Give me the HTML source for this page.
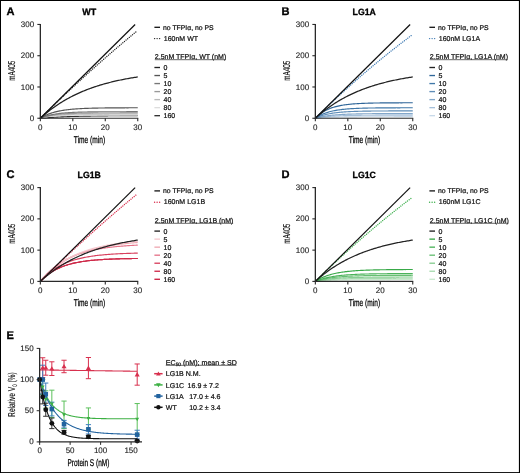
<!DOCTYPE html>
<html><head><meta charset="utf-8"><style>
html,body{margin:0;padding:0;background:#fff;}
svg{display:block;font-family:"Liberation Sans", sans-serif;will-change:transform;text-rendering:geometricPrecision;}
text{stroke:#111;stroke-width:0.22px;}
.at{stroke:#000;stroke-width:0.26px;}
.bd{stroke:#000;stroke-width:0.3px;}
.yl{stroke:#000;stroke-width:0.1px;}
.tk{stroke:#222;stroke-width:0.12px;}
</style></head><body>
<svg width="520" height="473" viewBox="0 0 520 473">
<rect x="0" y="0" width="520" height="473" fill="#000"/>
<rect x="1" y="1" width="517.9" height="471.1" fill="#fff"/>
<text x="6.4" y="14.7" font-size="11.1" text-anchor="start" font-weight="bold" fill="#000" class="bd">A</text>
<text x="89.2" y="15.3" font-size="9.1" text-anchor="middle" font-weight="bold" fill="#000" textLength="13.9" lengthAdjust="spacingAndGlyphs" class="bd">WT</text>
<path d="M40.35 118.25 L41.43 118.16 L42.51 118.07 L43.6 117.98 L44.68 117.9 L45.76 117.82 L46.84 117.74 L47.93 117.67 L49.01 117.6 L50.09 117.53 L51.17 117.46 L52.25 117.39 L53.34 117.33 L54.42 117.27 L55.5 117.21 L56.58 117.15 L57.67 117.09 L58.75 117.04 L59.83 116.99 L60.91 116.94 L61.99 116.89 L63.08 116.84 L64.16 116.8 L65.24 116.75 L66.32 116.71 L67.41 116.67 L68.49 116.63 L69.57 116.59 L70.65 116.55 L71.73 116.52 L72.82 116.48 L73.9 116.45 L74.98 116.42 L76.06 116.38 L77.15 116.35 L78.23 116.32 L79.31 116.3 L80.39 116.27 L81.47 116.24 L82.56 116.22 L83.64 116.19 L84.72 116.17 L85.8 116.14 L86.89 116.12 L87.97 116.1 L89.05 116.08 L90.13 116.06 L91.21 116.04 L92.3 116.02 L93.38 116 L94.46 115.98 L95.54 115.96 L96.63 115.95 L97.71 115.93 L98.79 115.92 L99.87 115.9 L100.95 115.89 L102.04 115.87 L103.12 115.86 L104.2 115.84 L105.28 115.83 L106.37 115.82 L107.45 115.81 L108.53 115.8 L109.61 115.78 L110.69 115.77 L111.78 115.76 L112.86 115.75 L113.94 115.74 L115.02 115.73 L116.11 115.72 L117.19 115.72 L118.27 115.71 L119.35 115.7 L120.43 115.69 L121.52 115.68 L122.6 115.68 L123.68 115.67 L124.76 115.66 L125.85 115.65 L126.93 115.65 L128.01 115.64 L129.09 115.63 L130.17 115.63 L131.26 115.62 L132.34 115.62 L133.42 115.61 L134.5 115.61 L135.59 115.6 L136.67 115.6 L137.75 115.59" fill="none" stroke="#333" stroke-width="1.15" stroke-linejoin="round"/>
<path d="M40.35 118.25 L41.43 117.95 L42.51 117.68 L43.6 117.44 L44.68 117.22 L45.76 117.02 L46.84 116.84 L47.93 116.68 L49.01 116.53 L50.09 116.39 L51.17 116.27 L52.25 116.16 L53.34 116.06 L54.42 115.98 L55.5 115.89 L56.58 115.82 L57.67 115.75 L58.75 115.69 L59.83 115.64 L60.91 115.59 L61.99 115.55 L63.08 115.51 L64.16 115.47 L65.24 115.44 L66.32 115.41 L67.41 115.38 L68.49 115.36 L69.57 115.33 L70.65 115.31 L71.73 115.3 L72.82 115.28 L73.9 115.26 L74.98 115.25 L76.06 115.24 L77.15 115.23 L78.23 115.22 L79.31 115.21 L80.39 115.2 L81.47 115.19 L82.56 115.19 L83.64 115.18 L84.72 115.17 L85.8 115.17 L86.89 115.17 L87.97 115.16 L89.05 115.16 L90.13 115.15 L91.21 115.15 L92.3 115.15 L93.38 115.15 L94.46 115.14 L95.54 115.14 L96.63 115.14 L97.71 115.14 L98.79 115.14 L99.87 115.14 L100.95 115.13 L102.04 115.13 L103.12 115.13 L104.2 115.13 L105.28 115.13 L106.37 115.13 L107.45 115.13 L108.53 115.13 L109.61 115.13 L110.69 115.13 L111.78 115.13 L112.86 115.13 L113.94 115.13 L115.02 115.13 L116.11 115.13 L117.19 115.13 L118.27 115.13 L119.35 115.13 L120.43 115.12 L121.52 115.12 L122.6 115.12 L123.68 115.12 L124.76 115.12 L125.85 115.12 L126.93 115.12 L128.01 115.12 L129.09 115.12 L130.17 115.12 L131.26 115.12 L132.34 115.12 L133.42 115.12 L134.5 115.12 L135.59 115.12 L136.67 115.12 L137.75 115.12" fill="none" stroke="#ddd" stroke-width="1.15" stroke-linejoin="round"/>
<path d="M40.35 118.25 L41.43 117.9 L42.51 117.58 L43.6 117.28 L44.68 117.01 L45.76 116.77 L46.84 116.54 L47.93 116.33 L49.01 116.14 L50.09 115.96 L51.17 115.8 L52.25 115.65 L53.34 115.52 L54.42 115.4 L55.5 115.28 L56.58 115.18 L57.67 115.08 L58.75 114.99 L59.83 114.91 L60.91 114.84 L61.99 114.77 L63.08 114.71 L64.16 114.65 L65.24 114.6 L66.32 114.55 L67.41 114.51 L68.49 114.47 L69.57 114.43 L70.65 114.4 L71.73 114.37 L72.82 114.34 L73.9 114.31 L74.98 114.29 L76.06 114.27 L77.15 114.25 L78.23 114.23 L79.31 114.21 L80.39 114.2 L81.47 114.18 L82.56 114.17 L83.64 114.16 L84.72 114.15 L85.8 114.14 L86.89 114.13 L87.97 114.12 L89.05 114.11 L90.13 114.11 L91.21 114.1 L92.3 114.09 L93.38 114.09 L94.46 114.08 L95.54 114.08 L96.63 114.07 L97.71 114.07 L98.79 114.07 L99.87 114.06 L100.95 114.06 L102.04 114.06 L103.12 114.05 L104.2 114.05 L105.28 114.05 L106.37 114.05 L107.45 114.05 L108.53 114.05 L109.61 114.04 L110.69 114.04 L111.78 114.04 L112.86 114.04 L113.94 114.04 L115.02 114.04 L116.11 114.04 L117.19 114.04 L118.27 114.04 L119.35 114.03 L120.43 114.03 L121.52 114.03 L122.6 114.03 L123.68 114.03 L124.76 114.03 L125.85 114.03 L126.93 114.03 L128.01 114.03 L129.09 114.03 L130.17 114.03 L131.26 114.03 L132.34 114.03 L133.42 114.03 L134.5 114.03 L135.59 114.03 L136.67 114.03 L137.75 114.03" fill="none" stroke="#bbb" stroke-width="1.15" stroke-linejoin="round"/>
<path d="M40.35 118.25 L41.43 117.84 L42.51 117.46 L43.6 117.12 L44.68 116.79 L45.76 116.5 L46.84 116.22 L47.93 115.97 L49.01 115.74 L50.09 115.52 L51.17 115.32 L52.25 115.14 L53.34 114.97 L54.42 114.81 L55.5 114.67 L56.58 114.53 L57.67 114.41 L58.75 114.3 L59.83 114.19 L60.91 114.09 L61.99 114 L63.08 113.92 L64.16 113.85 L65.24 113.78 L66.32 113.71 L67.41 113.65 L68.49 113.6 L69.57 113.54 L70.65 113.5 L71.73 113.45 L72.82 113.41 L73.9 113.38 L74.98 113.34 L76.06 113.31 L77.15 113.28 L78.23 113.25 L79.31 113.23 L80.39 113.21 L81.47 113.19 L82.56 113.17 L83.64 113.15 L84.72 113.13 L85.8 113.12 L86.89 113.1 L87.97 113.09 L89.05 113.08 L90.13 113.06 L91.21 113.05 L92.3 113.05 L93.38 113.04 L94.46 113.03 L95.54 113.02 L96.63 113.01 L97.71 113.01 L98.79 113 L99.87 113 L100.95 112.99 L102.04 112.99 L103.12 112.98 L104.2 112.98 L105.28 112.97 L106.37 112.97 L107.45 112.97 L108.53 112.97 L109.61 112.96 L110.69 112.96 L111.78 112.96 L112.86 112.96 L113.94 112.95 L115.02 112.95 L116.11 112.95 L117.19 112.95 L118.27 112.95 L119.35 112.95 L120.43 112.94 L121.52 112.94 L122.6 112.94 L123.68 112.94 L124.76 112.94 L125.85 112.94 L126.93 112.94 L128.01 112.94 L129.09 112.94 L130.17 112.94 L131.26 112.94 L132.34 112.94 L133.42 112.94 L134.5 112.94 L135.59 112.94 L136.67 112.93 L137.75 112.93" fill="none" stroke="#999" stroke-width="1.15" stroke-linejoin="round"/>
<path d="M40.35 118.25 L41.43 117.79 L42.51 117.35 L43.6 116.95 L44.68 116.58 L45.76 116.23 L46.84 115.91 L47.93 115.61 L49.01 115.33 L50.09 115.07 L51.17 114.83 L52.25 114.61 L53.34 114.4 L54.42 114.21 L55.5 114.03 L56.58 113.86 L57.67 113.71 L58.75 113.57 L59.83 113.43 L60.91 113.31 L61.99 113.19 L63.08 113.08 L64.16 112.98 L65.24 112.89 L66.32 112.81 L67.41 112.73 L68.49 112.65 L69.57 112.58 L70.65 112.52 L71.73 112.46 L72.82 112.4 L73.9 112.35 L74.98 112.3 L76.06 112.26 L77.15 112.22 L78.23 112.18 L79.31 112.14 L80.39 112.11 L81.47 112.08 L82.56 112.05 L83.64 112.02 L84.72 112 L85.8 111.98 L86.89 111.96 L87.97 111.94 L89.05 111.92 L90.13 111.9 L91.21 111.88 L92.3 111.87 L93.38 111.86 L94.46 111.84 L95.54 111.83 L96.63 111.82 L97.71 111.81 L98.79 111.8 L99.87 111.79 L100.95 111.78 L102.04 111.78 L103.12 111.77 L104.2 111.76 L105.28 111.76 L106.37 111.75 L107.45 111.74 L108.53 111.74 L109.61 111.74 L110.69 111.73 L111.78 111.73 L112.86 111.72 L113.94 111.72 L115.02 111.72 L116.11 111.71 L117.19 111.71 L118.27 111.71 L119.35 111.71 L120.43 111.7 L121.52 111.7 L122.6 111.7 L123.68 111.7 L124.76 111.7 L125.85 111.7 L126.93 111.69 L128.01 111.69 L129.09 111.69 L130.17 111.69 L131.26 111.69 L132.34 111.69 L133.42 111.69 L134.5 111.69 L135.59 111.69 L136.67 111.68 L137.75 111.68" fill="none" stroke="#777" stroke-width="1.15" stroke-linejoin="round"/>
<path d="M40.35 118.25 L41.43 117.57 L42.51 116.94 L43.6 116.35 L44.68 115.79 L45.76 115.27 L46.84 114.79 L47.93 114.33 L49.01 113.91 L50.09 113.51 L51.17 113.14 L52.25 112.79 L53.34 112.47 L54.42 112.16 L55.5 111.88 L56.58 111.61 L57.67 111.36 L58.75 111.13 L59.83 110.91 L60.91 110.71 L61.99 110.52 L63.08 110.34 L64.16 110.17 L65.24 110.02 L66.32 109.87 L67.41 109.73 L68.49 109.6 L69.57 109.49 L70.65 109.37 L71.73 109.27 L72.82 109.17 L73.9 109.08 L74.98 108.99 L76.06 108.91 L77.15 108.84 L78.23 108.77 L79.31 108.7 L80.39 108.64 L81.47 108.58 L82.56 108.53 L83.64 108.48 L84.72 108.43 L85.8 108.39 L86.89 108.35 L87.97 108.31 L89.05 108.27 L90.13 108.24 L91.21 108.21 L92.3 108.18 L93.38 108.15 L94.46 108.12 L95.54 108.1 L96.63 108.08 L97.71 108.06 L98.79 108.04 L99.87 108.02 L100.95 108 L102.04 107.98 L103.12 107.97 L104.2 107.96 L105.28 107.94 L106.37 107.93 L107.45 107.92 L108.53 107.91 L109.61 107.9 L110.69 107.89 L111.78 107.88 L112.86 107.87 L113.94 107.86 L115.02 107.86 L116.11 107.85 L117.19 107.84 L118.27 107.84 L119.35 107.83 L120.43 107.83 L121.52 107.82 L122.6 107.82 L123.68 107.81 L124.76 107.81 L125.85 107.8 L126.93 107.8 L128.01 107.8 L129.09 107.79 L130.17 107.79 L131.26 107.79 L132.34 107.79 L133.42 107.78 L134.5 107.78 L135.59 107.78 L136.67 107.78 L137.75 107.78" fill="none" stroke="#555" stroke-width="1.15" stroke-linejoin="round"/>
<path d="M40.35 118.25 L41.43 117.27 L42.51 116.31 L43.6 115.37 L44.68 114.44 L45.76 113.54 L46.84 112.65 L47.93 111.78 L49.01 110.93 L50.09 110.09 L51.17 109.28 L52.25 108.47 L53.34 107.69 L54.42 106.92 L55.5 106.16 L56.58 105.42 L57.67 104.69 L58.75 103.98 L59.83 103.28 L60.91 102.6 L61.99 101.93 L63.08 101.27 L64.16 100.63 L65.24 100 L66.32 99.38 L67.41 98.77 L68.49 98.18 L69.57 97.59 L70.65 97.02 L71.73 96.46 L72.82 95.91 L73.9 95.38 L74.98 94.85 L76.06 94.33 L77.15 93.82 L78.23 93.33 L79.31 92.84 L80.39 92.36 L81.47 91.9 L82.56 91.44 L83.64 90.99 L84.72 90.55 L85.8 90.12 L86.89 89.69 L87.97 89.28 L89.05 88.87 L90.13 88.47 L91.21 88.08 L92.3 87.7 L93.38 87.32 L94.46 86.96 L95.54 86.6 L96.63 86.24 L97.71 85.9 L98.79 85.56 L99.87 85.22 L100.95 84.9 L102.04 84.58 L103.12 84.26 L104.2 83.96 L105.28 83.66 L106.37 83.36 L107.45 83.07 L108.53 82.79 L109.61 82.51 L110.69 82.24 L111.78 81.97 L112.86 81.71 L113.94 81.45 L115.02 81.2 L116.11 80.95 L117.19 80.71 L118.27 80.47 L119.35 80.24 L120.43 80.01 L121.52 79.79 L122.6 79.57 L123.68 79.36 L124.76 79.15 L125.85 78.94 L126.93 78.74 L128.01 78.54 L129.09 78.35 L130.17 78.16 L131.26 77.97 L132.34 77.79 L133.42 77.61 L134.5 77.43 L135.59 77.26 L136.67 77.09 L137.75 76.93" fill="none" stroke="#222" stroke-width="1.25" stroke-linejoin="round"/>
<path d="M40.35 118.25 L41.43 117.18 L42.51 116.11 L43.6 115.05 L44.68 113.98 L45.76 112.92 L46.84 111.87 L47.93 110.81 L49.01 109.75 L50.09 108.7 L51.17 107.65 L52.25 106.61 L53.34 105.56 L54.42 104.52 L55.5 103.48 L56.58 102.44 L57.67 101.4 L58.75 100.37 L59.83 99.33 L60.91 98.3 L61.99 97.28 L63.08 96.25 L64.16 95.23 L65.24 94.2 L66.32 93.18 L67.41 92.17 L68.49 91.15 L69.57 90.14 L70.65 89.13 L71.73 88.12 L72.82 87.11 L73.9 86.11 L74.98 85.1 L76.06 84.1 L77.15 83.11 L78.23 82.11 L79.31 81.11 L80.39 80.12 L81.47 79.13 L82.56 78.14 L83.64 77.16 L84.72 76.17 L85.8 75.19 L86.89 74.21 L87.97 73.23 L89.05 72.26 L90.13 71.29 L91.21 70.31 L92.3 69.34 L93.38 68.38 L94.46 67.41 L95.54 66.45 L96.63 65.48 L97.71 64.53 L98.79 63.57 L99.87 62.61 L100.95 61.66 L102.04 60.71 L103.12 59.76 L104.2 58.81 L105.28 57.86 L106.37 56.92 L107.45 55.98 L108.53 55.04 L109.61 54.1 L110.69 53.16 L111.78 52.23 L112.86 51.3 L113.94 50.37 L115.02 49.44 L116.11 48.51 L117.19 47.59 L118.27 46.67 L119.35 45.75 L120.43 44.83 L121.52 43.91 L122.6 43 L123.68 42.08 L124.76 41.17 L125.85 40.26 L126.93 39.36 L128.01 38.45 L129.09 37.55 L130.17 36.65 L131.26 35.75 L132.34 34.85 L133.42 33.96 L134.5 33.06 L135.59 32.17 L136.67 31.28 L137.26 30.79" fill="none" stroke="#222" stroke-width="1.35" stroke-linejoin="round" stroke-dasharray="0.01 2.1" stroke-linecap="round"/>
<line x1="40.35" y1="118.25" x2="135.15" y2="24.45" stroke="#111" stroke-width="1.2"/>
<line x1="40.35" y1="23.95" x2="40.35" y2="118.85" stroke="#2a2a2a" stroke-width="1.3"/>
<line x1="39.75" y1="118.25" x2="138.25" y2="118.25" stroke="#2a2a2a" stroke-width="1.2"/>
<line x1="37.35" y1="118.25" x2="40.35" y2="118.25" stroke="#2a2a2a" stroke-width="1.1"/>
<text x="34.15" y="120.85" font-size="8" text-anchor="end" font-weight="normal" fill="#222" class="tk">0</text>
<line x1="37.35" y1="86.98" x2="40.35" y2="86.98" stroke="#2a2a2a" stroke-width="1.1"/>
<text x="34.15" y="89.58" font-size="8" text-anchor="end" font-weight="normal" fill="#222" class="tk">100</text>
<line x1="37.35" y1="55.72" x2="40.35" y2="55.72" stroke="#2a2a2a" stroke-width="1.1"/>
<text x="34.15" y="58.32" font-size="8" text-anchor="end" font-weight="normal" fill="#222" class="tk">200</text>
<line x1="37.35" y1="24.45" x2="40.35" y2="24.45" stroke="#2a2a2a" stroke-width="1.1"/>
<text x="34.15" y="27.05" font-size="8" text-anchor="end" font-weight="normal" fill="#222" class="tk">300</text>
<line x1="40.35" y1="118.25" x2="40.35" y2="121.25" stroke="#2a2a2a" stroke-width="1.1"/>
<text x="40.35" y="130" font-size="8" text-anchor="middle" font-weight="normal" fill="#222" class="tk">0</text>
<line x1="72.82" y1="118.25" x2="72.82" y2="121.25" stroke="#2a2a2a" stroke-width="1.1"/>
<text x="72.82" y="130" font-size="8" text-anchor="middle" font-weight="normal" fill="#222" class="tk">10</text>
<line x1="105.28" y1="118.25" x2="105.28" y2="121.25" stroke="#2a2a2a" stroke-width="1.1"/>
<text x="105.28" y="130" font-size="8" text-anchor="middle" font-weight="normal" fill="#222" class="tk">20</text>
<line x1="137.75" y1="118.25" x2="137.75" y2="121.25" stroke="#2a2a2a" stroke-width="1.1"/>
<text x="137.75" y="130" font-size="8" text-anchor="middle" font-weight="normal" fill="#222" class="tk">30</text>
<text x="89.5" y="142.8" font-size="9.8" text-anchor="middle" font-weight="normal" fill="#000" textLength="31.3" lengthAdjust="spacingAndGlyphs" class="at">Time (min)</text>
<text x="0" y="0" font-size="10" text-anchor="middle" fill="#000" class="yl" textLength="20" lengthAdjust="spacingAndGlyphs" transform="translate(14.8 70.7) rotate(-90)">mA405</text>
<line x1="154.4" y1="27.3" x2="160" y2="27.3" stroke="#111" stroke-width="1.3"/>
<text x="163" y="29.6" font-size="6.85" text-anchor="start" font-weight="normal" fill="#111">no TFPI&#945;, no PS</text>
<line x1="154.6" y1="38.6" x2="160" y2="38.6" stroke="#222" stroke-width="1.45" stroke-dasharray="0.01 2.5" stroke-linecap="round"/>
<text x="163.8" y="40.8" font-size="7" text-anchor="start" font-weight="normal" fill="#111">160nM WT</text>
<text x="154.8" y="58.9" font-size="7" text-anchor="start" font-weight="normal" fill="#111">2.5nM TFPI&#945;, WT (nM)</text>
<line x1="154.8" y1="59.7" x2="225.96" y2="59.7" stroke="#333" stroke-width="0.75"/>
<line x1="154.4" y1="67.5" x2="160" y2="67.5" stroke="#222" stroke-width="1.35"/>
<text x="163.5" y="70" font-size="7" text-anchor="start" font-weight="normal" fill="#111">0</text>
<line x1="154.4" y1="75.53" x2="160" y2="75.53" stroke="#555" stroke-width="1.35"/>
<text x="163.5" y="78.03" font-size="7" text-anchor="start" font-weight="normal" fill="#111">5</text>
<line x1="154.4" y1="83.56" x2="160" y2="83.56" stroke="#777" stroke-width="1.35"/>
<text x="163.5" y="86.06" font-size="7" text-anchor="start" font-weight="normal" fill="#111">10</text>
<line x1="154.4" y1="91.59" x2="160" y2="91.59" stroke="#999" stroke-width="1.35"/>
<text x="163.5" y="94.09" font-size="7" text-anchor="start" font-weight="normal" fill="#111">20</text>
<line x1="154.4" y1="99.62" x2="160" y2="99.62" stroke="#bbb" stroke-width="1.35"/>
<text x="163.5" y="102.12" font-size="7" text-anchor="start" font-weight="normal" fill="#111">40</text>
<line x1="154.4" y1="107.65" x2="160" y2="107.65" stroke="#ddd" stroke-width="1.35"/>
<text x="163.5" y="110.15" font-size="7" text-anchor="start" font-weight="normal" fill="#111">80</text>
<line x1="154.4" y1="115.68" x2="160" y2="115.68" stroke="#333" stroke-width="1.35"/>
<text x="163.5" y="118.18" font-size="7" text-anchor="start" font-weight="normal" fill="#111">160</text>
<text x="281.4" y="14.7" font-size="11.1" text-anchor="start" font-weight="bold" fill="#000" class="bd">B</text>
<text x="364.2" y="15.3" font-size="9.1" text-anchor="middle" font-weight="bold" fill="#000" textLength="23.2" lengthAdjust="spacingAndGlyphs" class="bd">LG1A</text>
<path d="M315.35 118.25 L316.43 118.15 L317.51 118.05 L318.6 117.97 L319.68 117.88 L320.76 117.81 L321.84 117.73 L322.93 117.67 L324.01 117.6 L325.09 117.54 L326.17 117.49 L327.25 117.44 L328.34 117.39 L329.42 117.34 L330.5 117.3 L331.58 117.26 L332.67 117.22 L333.75 117.19 L334.83 117.15 L335.91 117.12 L336.99 117.1 L338.08 117.07 L339.16 117.04 L340.24 117.02 L341.32 117 L342.41 116.98 L343.49 116.96 L344.57 116.94 L345.65 116.93 L346.73 116.91 L347.82 116.89 L348.9 116.88 L349.98 116.87 L351.06 116.86 L352.15 116.85 L353.23 116.83 L354.31 116.82 L355.39 116.82 L356.47 116.81 L357.56 116.8 L358.64 116.79 L359.72 116.78 L360.8 116.78 L361.89 116.77 L362.97 116.77 L364.05 116.76 L365.13 116.76 L366.21 116.75 L367.3 116.75 L368.38 116.74 L369.46 116.74 L370.54 116.74 L371.63 116.73 L372.71 116.73 L373.79 116.73 L374.87 116.72 L375.95 116.72 L377.04 116.72 L378.12 116.72 L379.2 116.71 L380.28 116.71 L381.37 116.71 L382.45 116.71 L383.53 116.71 L384.61 116.7 L385.69 116.7 L386.78 116.7 L387.86 116.7 L388.94 116.7 L390.02 116.7 L391.11 116.7 L392.19 116.7 L393.27 116.7 L394.35 116.69 L395.43 116.69 L396.52 116.69 L397.6 116.69 L398.68 116.69 L399.76 116.69 L400.85 116.69 L401.93 116.69 L403.01 116.69 L404.09 116.69 L405.17 116.69 L406.26 116.69 L407.34 116.69 L408.42 116.69 L409.5 116.69 L410.59 116.69 L411.67 116.69 L412.75 116.69" fill="none" stroke="#c8d9e9" stroke-width="1.15" stroke-linejoin="round"/>
<path d="M315.35 118.25 L316.43 118.05 L317.51 117.86 L318.6 117.68 L319.68 117.52 L320.76 117.36 L321.84 117.22 L322.93 117.08 L324.01 116.95 L325.09 116.84 L326.17 116.72 L327.25 116.62 L328.34 116.52 L329.42 116.43 L330.5 116.35 L331.58 116.27 L332.67 116.19 L333.75 116.12 L334.83 116.06 L335.91 116 L336.99 115.94 L338.08 115.89 L339.16 115.84 L340.24 115.79 L341.32 115.75 L342.41 115.71 L343.49 115.67 L344.57 115.63 L345.65 115.6 L346.73 115.57 L347.82 115.54 L348.9 115.51 L349.98 115.49 L351.06 115.46 L352.15 115.44 L353.23 115.42 L354.31 115.4 L355.39 115.38 L356.47 115.36 L357.56 115.35 L358.64 115.33 L359.72 115.32 L360.8 115.31 L361.89 115.29 L362.97 115.28 L364.05 115.27 L365.13 115.26 L366.21 115.25 L367.3 115.24 L368.38 115.24 L369.46 115.23 L370.54 115.22 L371.63 115.21 L372.71 115.21 L373.79 115.2 L374.87 115.2 L375.95 115.19 L377.04 115.19 L378.12 115.18 L379.2 115.18 L380.28 115.17 L381.37 115.17 L382.45 115.17 L383.53 115.16 L384.61 115.16 L385.69 115.16 L386.78 115.15 L387.86 115.15 L388.94 115.15 L390.02 115.15 L391.11 115.15 L392.19 115.14 L393.27 115.14 L394.35 115.14 L395.43 115.14 L396.52 115.14 L397.6 115.14 L398.68 115.13 L399.76 115.13 L400.85 115.13 L401.93 115.13 L403.01 115.13 L404.09 115.13 L405.17 115.13 L406.26 115.13 L407.34 115.13 L408.42 115.13 L409.5 115.13 L410.59 115.12 L411.67 115.12 L412.75 115.12" fill="none" stroke="#a5c0da" stroke-width="1.15" stroke-linejoin="round"/>
<path d="M315.35 118.25 L316.43 117.95 L317.51 117.66 L318.6 117.4 L319.68 117.15 L320.76 116.92 L321.84 116.7 L322.93 116.5 L324.01 116.31 L325.09 116.13 L326.17 115.96 L327.25 115.81 L328.34 115.66 L329.42 115.52 L330.5 115.4 L331.58 115.28 L332.67 115.17 L333.75 115.06 L334.83 114.96 L335.91 114.87 L336.99 114.79 L338.08 114.71 L339.16 114.63 L340.24 114.56 L341.32 114.5 L342.41 114.44 L343.49 114.38 L344.57 114.33 L345.65 114.28 L346.73 114.23 L347.82 114.18 L348.9 114.14 L349.98 114.11 L351.06 114.07 L352.15 114.04 L353.23 114 L354.31 113.97 L355.39 113.95 L356.47 113.92 L357.56 113.9 L358.64 113.88 L359.72 113.85 L360.8 113.83 L361.89 113.82 L362.97 113.8 L364.05 113.78 L365.13 113.77 L366.21 113.75 L367.3 113.74 L368.38 113.73 L369.46 113.72 L370.54 113.71 L371.63 113.7 L372.71 113.69 L373.79 113.68 L374.87 113.67 L375.95 113.66 L377.04 113.65 L378.12 113.65 L379.2 113.64 L380.28 113.63 L381.37 113.63 L382.45 113.62 L383.53 113.62 L384.61 113.61 L385.69 113.61 L386.78 113.61 L387.86 113.6 L388.94 113.6 L390.02 113.6 L391.11 113.59 L392.19 113.59 L393.27 113.59 L394.35 113.58 L395.43 113.58 L396.52 113.58 L397.6 113.58 L398.68 113.58 L399.76 113.57 L400.85 113.57 L401.93 113.57 L403.01 113.57 L404.09 113.57 L405.17 113.57 L406.26 113.57 L407.34 113.56 L408.42 113.56 L409.5 113.56 L410.59 113.56 L411.67 113.56 L412.75 113.56" fill="none" stroke="#82a7ca" stroke-width="1.15" stroke-linejoin="round"/>
<path d="M315.35 118.25 L316.43 117.73 L317.51 117.25 L318.6 116.8 L319.68 116.38 L320.76 115.99 L321.84 115.63 L322.93 115.3 L324.01 114.98 L325.09 114.7 L326.17 114.43 L327.25 114.18 L328.34 113.94 L329.42 113.73 L330.5 113.53 L331.58 113.34 L332.67 113.17 L333.75 113.01 L334.83 112.86 L335.91 112.72 L336.99 112.59 L338.08 112.47 L339.16 112.36 L340.24 112.25 L341.32 112.16 L342.41 112.07 L343.49 111.99 L344.57 111.91 L345.65 111.84 L346.73 111.77 L347.82 111.71 L348.9 111.65 L349.98 111.6 L351.06 111.55 L352.15 111.5 L353.23 111.46 L354.31 111.42 L355.39 111.38 L356.47 111.35 L357.56 111.31 L358.64 111.28 L359.72 111.26 L360.8 111.23 L361.89 111.21 L362.97 111.18 L364.05 111.16 L365.13 111.14 L366.21 111.13 L367.3 111.11 L368.38 111.09 L369.46 111.08 L370.54 111.07 L371.63 111.05 L372.71 111.04 L373.79 111.03 L374.87 111.02 L375.95 111.01 L377.04 111 L378.12 111 L379.2 110.99 L380.28 110.98 L381.37 110.98 L382.45 110.97 L383.53 110.96 L384.61 110.96 L385.69 110.95 L386.78 110.95 L387.86 110.95 L388.94 110.94 L390.02 110.94 L391.11 110.94 L392.19 110.93 L393.27 110.93 L394.35 110.93 L395.43 110.92 L396.52 110.92 L397.6 110.92 L398.68 110.92 L399.76 110.92 L400.85 110.91 L401.93 110.91 L403.01 110.91 L404.09 110.91 L405.17 110.91 L406.26 110.91 L407.34 110.91 L408.42 110.91 L409.5 110.9 L410.59 110.9 L411.67 110.9 L412.75 110.9" fill="none" stroke="#5f8db8" stroke-width="1.15" stroke-linejoin="round"/>
<path d="M315.35 118.25 L316.43 117.51 L317.51 116.82 L318.6 116.18 L319.68 115.58 L320.76 115.03 L321.84 114.52 L322.93 114.04 L324.01 113.59 L325.09 113.18 L326.17 112.8 L327.25 112.44 L328.34 112.11 L329.42 111.8 L330.5 111.52 L331.58 111.25 L332.67 111.01 L333.75 110.78 L334.83 110.56 L335.91 110.37 L336.99 110.18 L338.08 110.01 L339.16 109.85 L340.24 109.7 L341.32 109.57 L342.41 109.44 L343.49 109.32 L344.57 109.21 L345.65 109.11 L346.73 109.01 L347.82 108.92 L348.9 108.84 L349.98 108.77 L351.06 108.69 L352.15 108.63 L353.23 108.57 L354.31 108.51 L355.39 108.46 L356.47 108.41 L357.56 108.36 L358.64 108.32 L359.72 108.28 L360.8 108.24 L361.89 108.21 L362.97 108.18 L364.05 108.15 L365.13 108.12 L366.21 108.1 L367.3 108.07 L368.38 108.05 L369.46 108.03 L370.54 108.01 L371.63 107.99 L372.71 107.98 L373.79 107.96 L374.87 107.95 L375.95 107.93 L377.04 107.92 L378.12 107.91 L379.2 107.9 L380.28 107.89 L381.37 107.88 L382.45 107.87 L383.53 107.86 L384.61 107.86 L385.69 107.85 L386.78 107.84 L387.86 107.84 L388.94 107.83 L390.02 107.83 L391.11 107.82 L392.19 107.82 L393.27 107.81 L394.35 107.81 L395.43 107.81 L396.52 107.8 L397.6 107.8 L398.68 107.8 L399.76 107.8 L400.85 107.79 L401.93 107.79 L403.01 107.79 L404.09 107.79 L405.17 107.79 L406.26 107.78 L407.34 107.78 L408.42 107.78 L409.5 107.78 L410.59 107.78 L411.67 107.78 L412.75 107.78" fill="none" stroke="#4078a9" stroke-width="1.15" stroke-linejoin="round"/>
<path d="M315.35 118.25 L316.43 117.15 L317.51 116.14 L318.6 115.19 L319.68 114.31 L320.76 113.49 L321.84 112.73 L322.93 112.03 L324.01 111.37 L325.09 110.76 L326.17 110.2 L327.25 109.67 L328.34 109.18 L329.42 108.73 L330.5 108.3 L331.58 107.91 L332.67 107.55 L333.75 107.21 L334.83 106.89 L335.91 106.6 L336.99 106.33 L338.08 106.07 L339.16 105.84 L340.24 105.62 L341.32 105.42 L342.41 105.23 L343.49 105.05 L344.57 104.89 L345.65 104.74 L346.73 104.6 L347.82 104.47 L348.9 104.35 L349.98 104.23 L351.06 104.13 L352.15 104.03 L353.23 103.94 L354.31 103.86 L355.39 103.78 L356.47 103.71 L357.56 103.64 L358.64 103.58 L359.72 103.52 L360.8 103.46 L361.89 103.41 L362.97 103.37 L364.05 103.32 L365.13 103.28 L366.21 103.25 L367.3 103.21 L368.38 103.18 L369.46 103.15 L370.54 103.12 L371.63 103.09 L372.71 103.07 L373.79 103.05 L374.87 103.03 L375.95 103.01 L377.04 102.99 L378.12 102.97 L379.2 102.96 L380.28 102.94 L381.37 102.93 L382.45 102.92 L383.53 102.9 L384.61 102.89 L385.69 102.88 L386.78 102.87 L387.86 102.87 L388.94 102.86 L390.02 102.85 L391.11 102.84 L392.19 102.84 L393.27 102.83 L394.35 102.83 L395.43 102.82 L396.52 102.82 L397.6 102.81 L398.68 102.81 L399.76 102.8 L400.85 102.8 L401.93 102.8 L403.01 102.79 L404.09 102.79 L405.17 102.79 L406.26 102.78 L407.34 102.78 L408.42 102.78 L409.5 102.78 L410.59 102.78 L411.67 102.77 L412.75 102.77" fill="none" stroke="#2f6699" stroke-width="1.15" stroke-linejoin="round"/>
<path d="M315.35 118.25 L316.43 117.27 L317.51 116.31 L318.6 115.37 L319.68 114.44 L320.76 113.54 L321.84 112.65 L322.93 111.78 L324.01 110.93 L325.09 110.09 L326.17 109.28 L327.25 108.47 L328.34 107.69 L329.42 106.92 L330.5 106.16 L331.58 105.42 L332.67 104.69 L333.75 103.98 L334.83 103.28 L335.91 102.6 L336.99 101.93 L338.08 101.27 L339.16 100.63 L340.24 100 L341.32 99.38 L342.41 98.77 L343.49 98.18 L344.57 97.59 L345.65 97.02 L346.73 96.46 L347.82 95.91 L348.9 95.38 L349.98 94.85 L351.06 94.33 L352.15 93.82 L353.23 93.33 L354.31 92.84 L355.39 92.36 L356.47 91.9 L357.56 91.44 L358.64 90.99 L359.72 90.55 L360.8 90.12 L361.89 89.69 L362.97 89.28 L364.05 88.87 L365.13 88.47 L366.21 88.08 L367.3 87.7 L368.38 87.32 L369.46 86.96 L370.54 86.6 L371.63 86.24 L372.71 85.9 L373.79 85.56 L374.87 85.22 L375.95 84.9 L377.04 84.58 L378.12 84.26 L379.2 83.96 L380.28 83.66 L381.37 83.36 L382.45 83.07 L383.53 82.79 L384.61 82.51 L385.69 82.24 L386.78 81.97 L387.86 81.71 L388.94 81.45 L390.02 81.2 L391.11 80.95 L392.19 80.71 L393.27 80.47 L394.35 80.24 L395.43 80.01 L396.52 79.79 L397.6 79.57 L398.68 79.36 L399.76 79.15 L400.85 78.94 L401.93 78.74 L403.01 78.54 L404.09 78.35 L405.17 78.16 L406.26 77.97 L407.34 77.79 L408.42 77.61 L409.5 77.43 L410.59 77.26 L411.67 77.09 L412.75 76.93" fill="none" stroke="#222" stroke-width="1.25" stroke-linejoin="round"/>
<path d="M315.35 118.25 L316.43 117.18 L317.51 116.12 L318.6 115.05 L319.68 113.99 L320.76 112.94 L321.84 111.89 L322.93 110.84 L324.01 109.79 L325.09 108.75 L326.17 107.71 L327.25 106.68 L328.34 105.64 L329.42 104.61 L330.5 103.59 L331.58 102.57 L332.67 101.55 L333.75 100.53 L334.83 99.52 L335.91 98.51 L336.99 97.5 L338.08 96.5 L339.16 95.5 L340.24 94.5 L341.32 93.51 L342.41 92.52 L343.49 91.53 L344.57 90.55 L345.65 89.57 L346.73 88.59 L347.82 87.61 L348.9 86.64 L349.98 85.67 L351.06 84.71 L352.15 83.74 L353.23 82.79 L354.31 81.83 L355.39 80.88 L356.47 79.93 L357.56 78.98 L358.64 78.03 L359.72 77.09 L360.8 76.15 L361.89 75.22 L362.97 74.29 L364.05 73.36 L365.13 72.43 L366.21 71.51 L367.3 70.59 L368.38 69.67 L369.46 68.75 L370.54 67.84 L371.63 66.93 L372.71 66.03 L373.79 65.12 L374.87 64.22 L375.95 63.33 L377.04 62.43 L378.12 61.54 L379.2 60.65 L380.28 59.77 L381.37 58.88 L382.45 58 L383.53 57.12 L384.61 56.25 L385.69 55.38 L386.78 54.51 L387.86 53.64 L388.94 52.78 L390.02 51.92 L391.11 51.06 L392.19 50.2 L393.27 49.35 L394.35 48.5 L395.43 47.65 L396.52 46.81 L397.6 45.97 L398.68 45.13 L399.76 44.29 L400.85 43.46 L401.93 42.63 L403.01 41.8 L404.09 40.97 L405.17 40.15 L406.26 39.33 L407.34 38.51 L408.42 37.69 L409.5 36.88 L410.59 36.07 L411.67 35.26 L412.26 34.82" fill="none" stroke="#3b78b2" stroke-width="1.35" stroke-linejoin="round" stroke-dasharray="0.01 2.1" stroke-linecap="round"/>
<line x1="315.35" y1="118.25" x2="410.15" y2="24.45" stroke="#111" stroke-width="1.2"/>
<line x1="315.35" y1="23.95" x2="315.35" y2="118.85" stroke="#2a2a2a" stroke-width="1.3"/>
<line x1="314.75" y1="118.25" x2="413.25" y2="118.25" stroke="#2a2a2a" stroke-width="1.2"/>
<line x1="312.35" y1="118.25" x2="315.35" y2="118.25" stroke="#2a2a2a" stroke-width="1.1"/>
<text x="309.15" y="120.85" font-size="8" text-anchor="end" font-weight="normal" fill="#222" class="tk">0</text>
<line x1="312.35" y1="86.98" x2="315.35" y2="86.98" stroke="#2a2a2a" stroke-width="1.1"/>
<text x="309.15" y="89.58" font-size="8" text-anchor="end" font-weight="normal" fill="#222" class="tk">100</text>
<line x1="312.35" y1="55.72" x2="315.35" y2="55.72" stroke="#2a2a2a" stroke-width="1.1"/>
<text x="309.15" y="58.32" font-size="8" text-anchor="end" font-weight="normal" fill="#222" class="tk">200</text>
<line x1="312.35" y1="24.45" x2="315.35" y2="24.45" stroke="#2a2a2a" stroke-width="1.1"/>
<text x="309.15" y="27.05" font-size="8" text-anchor="end" font-weight="normal" fill="#222" class="tk">300</text>
<line x1="315.35" y1="118.25" x2="315.35" y2="121.25" stroke="#2a2a2a" stroke-width="1.1"/>
<text x="315.35" y="130" font-size="8" text-anchor="middle" font-weight="normal" fill="#222" class="tk">0</text>
<line x1="347.82" y1="118.25" x2="347.82" y2="121.25" stroke="#2a2a2a" stroke-width="1.1"/>
<text x="347.82" y="130" font-size="8" text-anchor="middle" font-weight="normal" fill="#222" class="tk">10</text>
<line x1="380.28" y1="118.25" x2="380.28" y2="121.25" stroke="#2a2a2a" stroke-width="1.1"/>
<text x="380.28" y="130" font-size="8" text-anchor="middle" font-weight="normal" fill="#222" class="tk">20</text>
<line x1="412.75" y1="118.25" x2="412.75" y2="121.25" stroke="#2a2a2a" stroke-width="1.1"/>
<text x="412.75" y="130" font-size="8" text-anchor="middle" font-weight="normal" fill="#222" class="tk">30</text>
<text x="364.5" y="142.8" font-size="9.8" text-anchor="middle" font-weight="normal" fill="#000" textLength="31.3" lengthAdjust="spacingAndGlyphs" class="at">Time (min)</text>
<text x="0" y="0" font-size="10" text-anchor="middle" fill="#000" class="yl" textLength="20" lengthAdjust="spacingAndGlyphs" transform="translate(289.8 70.7) rotate(-90)">mA405</text>
<line x1="429.4" y1="27.3" x2="435" y2="27.3" stroke="#111" stroke-width="1.3"/>
<text x="438" y="29.6" font-size="6.85" text-anchor="start" font-weight="normal" fill="#111">no TFPI&#945;, no PS</text>
<line x1="429.6" y1="38.6" x2="435" y2="38.6" stroke="#3b78b2" stroke-width="1.45" stroke-dasharray="0.01 2.5" stroke-linecap="round"/>
<text x="438.8" y="40.8" font-size="7" text-anchor="start" font-weight="normal" fill="#111">160nM LG1A</text>
<text x="429.8" y="58.9" font-size="7" text-anchor="start" font-weight="normal" fill="#111">2.5nM TFPI&#945;, LG1A (nM)</text>
<line x1="429.8" y1="59.7" x2="507.72" y2="59.7" stroke="#333" stroke-width="0.75"/>
<line x1="429.4" y1="67.5" x2="435" y2="67.5" stroke="#222" stroke-width="1.35"/>
<text x="438.5" y="70" font-size="7" text-anchor="start" font-weight="normal" fill="#111">0</text>
<line x1="429.4" y1="75.53" x2="435" y2="75.53" stroke="#2f6699" stroke-width="1.35"/>
<text x="438.5" y="78.03" font-size="7" text-anchor="start" font-weight="normal" fill="#111">5</text>
<line x1="429.4" y1="83.56" x2="435" y2="83.56" stroke="#4078a9" stroke-width="1.35"/>
<text x="438.5" y="86.06" font-size="7" text-anchor="start" font-weight="normal" fill="#111">10</text>
<line x1="429.4" y1="91.59" x2="435" y2="91.59" stroke="#5f8db8" stroke-width="1.35"/>
<text x="438.5" y="94.09" font-size="7" text-anchor="start" font-weight="normal" fill="#111">20</text>
<line x1="429.4" y1="99.62" x2="435" y2="99.62" stroke="#82a7ca" stroke-width="1.35"/>
<text x="438.5" y="102.12" font-size="7" text-anchor="start" font-weight="normal" fill="#111">40</text>
<line x1="429.4" y1="107.65" x2="435" y2="107.65" stroke="#a5c0da" stroke-width="1.35"/>
<text x="438.5" y="110.15" font-size="7" text-anchor="start" font-weight="normal" fill="#111">80</text>
<line x1="429.4" y1="115.68" x2="435" y2="115.68" stroke="#c8d9e9" stroke-width="1.35"/>
<text x="438.5" y="118.18" font-size="7" text-anchor="start" font-weight="normal" fill="#111">160</text>
<text x="6.4" y="177.85" font-size="11.1" text-anchor="start" font-weight="bold" fill="#000" class="bd">C</text>
<text x="89.2" y="178.45" font-size="9.1" text-anchor="middle" font-weight="bold" fill="#000" textLength="23.2" lengthAdjust="spacingAndGlyphs" class="bd">LG1B</text>
<path d="M40.35 281.4 L41.43 280.27 L42.51 279.19 L43.6 278.17 L44.68 277.2 L45.76 276.27 L46.84 275.39 L47.93 274.56 L49.01 273.76 L50.09 273 L51.17 272.28 L52.25 271.6 L53.34 270.94 L54.42 270.32 L55.5 269.73 L56.58 269.17 L57.67 268.64 L58.75 268.13 L59.83 267.65 L60.91 267.19 L61.99 266.75 L63.08 266.33 L64.16 265.94 L65.24 265.56 L66.32 265.2 L67.41 264.86 L68.49 264.54 L69.57 264.23 L70.65 263.94 L71.73 263.66 L72.82 263.4 L73.9 263.14 L74.98 262.9 L76.06 262.68 L77.15 262.46 L78.23 262.25 L79.31 262.06 L80.39 261.87 L81.47 261.69 L82.56 261.52 L83.64 261.36 L84.72 261.21 L85.8 261.06 L86.89 260.92 L87.97 260.79 L89.05 260.67 L90.13 260.55 L91.21 260.43 L92.3 260.33 L93.38 260.22 L94.46 260.13 L95.54 260.03 L96.63 259.95 L97.71 259.86 L98.79 259.78 L99.87 259.71 L100.95 259.63 L102.04 259.56 L103.12 259.5 L104.2 259.44 L105.28 259.38 L106.37 259.32 L107.45 259.27 L108.53 259.22 L109.61 259.17 L110.69 259.12 L111.78 259.08 L112.86 259.04 L113.94 259 L115.02 258.96 L116.11 258.92 L117.19 258.89 L118.27 258.86 L119.35 258.83 L120.43 258.8 L121.52 258.77 L122.6 258.74 L123.68 258.72 L124.76 258.69 L125.85 258.67 L126.93 258.65 L128.01 258.63 L129.09 258.61 L130.17 258.59 L131.26 258.57 L132.34 258.55 L133.42 258.54 L134.5 258.52 L135.59 258.51 L136.67 258.49 L137.75 258.48" fill="none" stroke="#c9203f" stroke-width="1.15" stroke-linejoin="round"/>
<path d="M40.35 281.4 L41.43 280.27 L42.51 279.19 L43.6 278.17 L44.68 277.2 L45.76 276.27 L46.84 275.39 L47.93 274.56 L49.01 273.76 L50.09 273 L51.17 272.28 L52.25 271.6 L53.34 270.94 L54.42 270.32 L55.5 269.73 L56.58 269.17 L57.67 268.64 L58.75 268.13 L59.83 267.65 L60.91 267.19 L61.99 266.75 L63.08 266.33 L64.16 265.94 L65.24 265.56 L66.32 265.2 L67.41 264.86 L68.49 264.54 L69.57 264.23 L70.65 263.94 L71.73 263.66 L72.82 263.4 L73.9 263.14 L74.98 262.9 L76.06 262.68 L77.15 262.46 L78.23 262.25 L79.31 262.06 L80.39 261.87 L81.47 261.69 L82.56 261.52 L83.64 261.36 L84.72 261.21 L85.8 261.06 L86.89 260.92 L87.97 260.79 L89.05 260.67 L90.13 260.55 L91.21 260.43 L92.3 260.33 L93.38 260.22 L94.46 260.13 L95.54 260.03 L96.63 259.95 L97.71 259.86 L98.79 259.78 L99.87 259.71 L100.95 259.63 L102.04 259.56 L103.12 259.5 L104.2 259.44 L105.28 259.38 L106.37 259.32 L107.45 259.27 L108.53 259.22 L109.61 259.17 L110.69 259.12 L111.78 259.08 L112.86 259.04 L113.94 259 L115.02 258.96 L116.11 258.92 L117.19 258.89 L118.27 258.86 L119.35 258.83 L120.43 258.8 L121.52 258.77 L122.6 258.74 L123.68 258.72 L124.76 258.69 L125.85 258.67 L126.93 258.65 L128.01 258.63 L129.09 258.61 L130.17 258.59 L131.26 258.57 L132.34 258.55 L133.42 258.54 L134.5 258.52 L135.59 258.51 L136.67 258.49 L137.75 258.48" fill="none" stroke="#cf2a4a" stroke-width="1.15" stroke-linejoin="round"/>
<path d="M40.35 281.4 L41.43 280.18 L42.51 279 L43.6 277.88 L44.68 276.8 L45.76 275.77 L46.84 274.79 L47.93 273.84 L49.01 272.94 L50.09 272.07 L51.17 271.24 L52.25 270.45 L53.34 269.69 L54.42 268.96 L55.5 268.26 L56.58 267.6 L57.67 266.96 L58.75 266.34 L59.83 265.76 L60.91 265.2 L61.99 264.66 L63.08 264.14 L64.16 263.65 L65.24 263.18 L66.32 262.73 L67.41 262.29 L68.49 261.88 L69.57 261.48 L70.65 261.1 L71.73 260.74 L72.82 260.39 L73.9 260.06 L74.98 259.74 L76.06 259.43 L77.15 259.14 L78.23 258.86 L79.31 258.59 L80.39 258.33 L81.47 258.08 L82.56 257.85 L83.64 257.62 L84.72 257.41 L85.8 257.2 L86.89 257 L87.97 256.81 L89.05 256.63 L90.13 256.45 L91.21 256.29 L92.3 256.13 L93.38 255.97 L94.46 255.83 L95.54 255.69 L96.63 255.55 L97.71 255.42 L98.79 255.3 L99.87 255.18 L100.95 255.07 L102.04 254.96 L103.12 254.86 L104.2 254.76 L105.28 254.66 L106.37 254.57 L107.45 254.49 L108.53 254.4 L109.61 254.32 L110.69 254.25 L111.78 254.17 L112.86 254.1 L113.94 254.04 L115.02 253.97 L116.11 253.91 L117.19 253.85 L118.27 253.79 L119.35 253.74 L120.43 253.69 L121.52 253.64 L122.6 253.59 L123.68 253.55 L124.76 253.5 L125.85 253.46 L126.93 253.42 L128.01 253.38 L129.09 253.35 L130.17 253.31 L131.26 253.28 L132.34 253.25 L133.42 253.21 L134.5 253.18 L135.59 253.16 L136.67 253.13 L137.75 253.1" fill="none" stroke="#d8405e" stroke-width="1.15" stroke-linejoin="round"/>
<path d="M40.35 281.4 L41.43 280.04 L42.51 278.74 L43.6 277.48 L44.68 276.26 L45.76 275.09 L46.84 273.96 L47.93 272.88 L49.01 271.83 L50.09 270.82 L51.17 269.84 L52.25 268.9 L53.34 268 L54.42 267.12 L55.5 266.28 L56.58 265.47 L57.67 264.69 L58.75 263.93 L59.83 263.21 L60.91 262.5 L61.99 261.83 L63.08 261.18 L64.16 260.55 L65.24 259.95 L66.32 259.36 L67.41 258.8 L68.49 258.26 L69.57 257.73 L70.65 257.23 L71.73 256.75 L72.82 256.28 L73.9 255.83 L74.98 255.39 L76.06 254.97 L77.15 254.57 L78.23 254.18 L79.31 253.8 L80.39 253.44 L81.47 253.09 L82.56 252.75 L83.64 252.43 L84.72 252.12 L85.8 251.81 L86.89 251.52 L87.97 251.24 L89.05 250.97 L90.13 250.71 L91.21 250.46 L92.3 250.22 L93.38 249.99 L94.46 249.76 L95.54 249.55 L96.63 249.34 L97.71 249.14 L98.79 248.94 L99.87 248.75 L100.95 248.57 L102.04 248.4 L103.12 248.23 L104.2 248.07 L105.28 247.91 L106.37 247.76 L107.45 247.62 L108.53 247.48 L109.61 247.35 L110.69 247.22 L111.78 247.09 L112.86 246.97 L113.94 246.85 L115.02 246.74 L116.11 246.63 L117.19 246.53 L118.27 246.43 L119.35 246.33 L120.43 246.24 L121.52 246.15 L122.6 246.06 L123.68 245.98 L124.76 245.9 L125.85 245.82 L126.93 245.75 L128.01 245.67 L129.09 245.6 L130.17 245.54 L131.26 245.47 L132.34 245.41 L133.42 245.35 L134.5 245.29 L135.59 245.24 L136.67 245.18 L137.75 245.13" fill="none" stroke="#e57389" stroke-width="1.15" stroke-linejoin="round"/>
<path d="M40.35 281.4 L41.43 280.17 L42.51 278.97 L43.6 277.81 L44.68 276.68 L45.76 275.59 L46.84 274.53 L47.93 273.5 L49.01 272.5 L50.09 271.53 L51.17 270.58 L52.25 269.67 L53.34 268.78 L54.42 267.92 L55.5 267.09 L56.58 266.28 L57.67 265.49 L58.75 264.73 L59.83 263.99 L60.91 263.27 L61.99 262.57 L63.08 261.89 L64.16 261.24 L65.24 260.6 L66.32 259.98 L67.41 259.38 L68.49 258.8 L69.57 258.23 L70.65 257.68 L71.73 257.15 L72.82 256.64 L73.9 256.13 L74.98 255.65 L76.06 255.17 L77.15 254.72 L78.23 254.27 L79.31 253.84 L80.39 253.42 L81.47 253.01 L82.56 252.62 L83.64 252.24 L84.72 251.87 L85.8 251.51 L86.89 251.16 L87.97 250.82 L89.05 250.49 L90.13 250.17 L91.21 249.86 L92.3 249.56 L93.38 249.26 L94.46 248.98 L95.54 248.7 L96.63 248.44 L97.71 248.18 L98.79 247.93 L99.87 247.68 L100.95 247.45 L102.04 247.22 L103.12 246.99 L104.2 246.78 L105.28 246.57 L106.37 246.36 L107.45 246.16 L108.53 245.97 L109.61 245.79 L110.69 245.61 L111.78 245.43 L112.86 245.26 L113.94 245.09 L115.02 244.93 L116.11 244.78 L117.19 244.63 L118.27 244.48 L119.35 244.34 L120.43 244.2 L121.52 244.07 L122.6 243.94 L123.68 243.81 L124.76 243.69 L125.85 243.57 L126.93 243.45 L128.01 243.34 L129.09 243.23 L130.17 243.13 L131.26 243.03 L132.34 242.93 L133.42 242.83 L134.5 242.74 L135.59 242.65 L136.67 242.56 L137.75 242.47" fill="none" stroke="#efa9b3" stroke-width="1.15" stroke-linejoin="round"/>
<path d="M40.35 281.4 L41.43 280.13 L42.51 278.9 L43.6 277.71 L44.68 276.55 L45.76 275.42 L46.84 274.33 L47.93 273.27 L49.01 272.25 L50.09 271.25 L51.17 270.28 L52.25 269.34 L53.34 268.43 L54.42 267.54 L55.5 266.69 L56.58 265.85 L57.67 265.04 L58.75 264.26 L59.83 263.5 L60.91 262.76 L61.99 262.04 L63.08 261.35 L64.16 260.67 L65.24 260.02 L66.32 259.38 L67.41 258.76 L68.49 258.16 L69.57 257.58 L70.65 257.02 L71.73 256.47 L72.82 255.94 L73.9 255.42 L74.98 254.92 L76.06 254.44 L77.15 253.97 L78.23 253.51 L79.31 253.07 L80.39 252.63 L81.47 252.22 L82.56 251.81 L83.64 251.42 L84.72 251.04 L85.8 250.67 L86.89 250.31 L87.97 249.96 L89.05 249.62 L90.13 249.29 L91.21 248.97 L92.3 248.66 L93.38 248.36 L94.46 248.07 L95.54 247.79 L96.63 247.51 L97.71 247.24 L98.79 246.99 L99.87 246.74 L100.95 246.49 L102.04 246.26 L103.12 246.03 L104.2 245.8 L105.28 245.59 L106.37 245.38 L107.45 245.17 L108.53 244.98 L109.61 244.79 L110.69 244.6 L111.78 244.42 L112.86 244.24 L113.94 244.07 L115.02 243.91 L116.11 243.75 L117.19 243.59 L118.27 243.44 L119.35 243.3 L120.43 243.16 L121.52 243.02 L122.6 242.88 L123.68 242.75 L124.76 242.63 L125.85 242.51 L126.93 242.39 L128.01 242.27 L129.09 242.16 L130.17 242.05 L131.26 241.95 L132.34 241.85 L133.42 241.75 L134.5 241.65 L135.59 241.56 L136.67 241.47 L137.75 241.38" fill="none" stroke="#f5c9cf" stroke-width="1.15" stroke-linejoin="round"/>
<path d="M40.35 281.4 L41.43 280.42 L42.51 279.46 L43.6 278.52 L44.68 277.59 L45.76 276.69 L46.84 275.8 L47.93 274.93 L49.01 274.08 L50.09 273.24 L51.17 272.43 L52.25 271.62 L53.34 270.84 L54.42 270.07 L55.5 269.31 L56.58 268.57 L57.67 267.84 L58.75 267.13 L59.83 266.43 L60.91 265.75 L61.99 265.08 L63.08 264.42 L64.16 263.78 L65.24 263.15 L66.32 262.53 L67.41 261.92 L68.49 261.33 L69.57 260.74 L70.65 260.17 L71.73 259.61 L72.82 259.06 L73.9 258.53 L74.98 258 L76.06 257.48 L77.15 256.97 L78.23 256.48 L79.31 255.99 L80.39 255.51 L81.47 255.05 L82.56 254.59 L83.64 254.14 L84.72 253.7 L85.8 253.27 L86.89 252.84 L87.97 252.43 L89.05 252.02 L90.13 251.62 L91.21 251.23 L92.3 250.85 L93.38 250.47 L94.46 250.11 L95.54 249.75 L96.63 249.39 L97.71 249.05 L98.79 248.71 L99.87 248.37 L100.95 248.05 L102.04 247.73 L103.12 247.41 L104.2 247.11 L105.28 246.81 L106.37 246.51 L107.45 246.22 L108.53 245.94 L109.61 245.66 L110.69 245.39 L111.78 245.12 L112.86 244.86 L113.94 244.6 L115.02 244.35 L116.11 244.1 L117.19 243.86 L118.27 243.62 L119.35 243.39 L120.43 243.16 L121.52 242.94 L122.6 242.72 L123.68 242.51 L124.76 242.3 L125.85 242.09 L126.93 241.89 L128.01 241.69 L129.09 241.5 L130.17 241.31 L131.26 241.12 L132.34 240.94 L133.42 240.76 L134.5 240.58 L135.59 240.41 L136.67 240.24 L137.75 240.08" fill="none" stroke="#222" stroke-width="1.25" stroke-linejoin="round"/>
<path d="M40.35 281.4 L41.43 280.33 L42.51 279.26 L43.6 278.2 L44.68 277.13 L45.76 276.07 L46.84 275.02 L47.93 273.96 L49.01 272.9 L50.09 271.85 L51.17 270.8 L52.25 269.76 L53.34 268.71 L54.42 267.67 L55.5 266.63 L56.58 265.59 L57.67 264.55 L58.75 263.52 L59.83 262.48 L60.91 261.45 L61.99 260.43 L63.08 259.4 L64.16 258.38 L65.24 257.35 L66.32 256.33 L67.41 255.32 L68.49 254.3 L69.57 253.29 L70.65 252.28 L71.73 251.27 L72.82 250.26 L73.9 249.26 L74.98 248.25 L76.06 247.25 L77.15 246.26 L78.23 245.26 L79.31 244.26 L80.39 243.27 L81.47 242.28 L82.56 241.29 L83.64 240.31 L84.72 239.32 L85.8 238.34 L86.89 237.36 L87.97 236.38 L89.05 235.41 L90.13 234.44 L91.21 233.46 L92.3 232.49 L93.38 231.53 L94.46 230.56 L95.54 229.6 L96.63 228.63 L97.71 227.68 L98.79 226.72 L99.87 225.76 L100.95 224.81 L102.04 223.86 L103.12 222.91 L104.2 221.96 L105.28 221.01 L106.37 220.07 L107.45 219.13 L108.53 218.19 L109.61 217.25 L110.69 216.31 L111.78 215.38 L112.86 214.45 L113.94 213.52 L115.02 212.59 L116.11 211.66 L117.19 210.74 L118.27 209.82 L119.35 208.9 L120.43 207.98 L121.52 207.06 L122.6 206.15 L123.68 205.23 L124.76 204.32 L125.85 203.41 L126.93 202.51 L128.01 201.6 L129.09 200.7 L130.17 199.8 L131.26 198.9 L132.34 198 L133.42 197.11 L134.5 196.21 L135.59 195.32 L136.67 194.43 L137.26 193.94" fill="none" stroke="#d8304e" stroke-width="1.35" stroke-linejoin="round" stroke-dasharray="0.01 2.1" stroke-linecap="round"/>
<line x1="40.35" y1="281.4" x2="135.15" y2="187.6" stroke="#111" stroke-width="1.2"/>
<line x1="40.35" y1="187.1" x2="40.35" y2="282" stroke="#2a2a2a" stroke-width="1.3"/>
<line x1="39.75" y1="281.4" x2="138.25" y2="281.4" stroke="#2a2a2a" stroke-width="1.2"/>
<line x1="37.35" y1="281.4" x2="40.35" y2="281.4" stroke="#2a2a2a" stroke-width="1.1"/>
<text x="34.15" y="284" font-size="8" text-anchor="end" font-weight="normal" fill="#222" class="tk">0</text>
<line x1="37.35" y1="250.13" x2="40.35" y2="250.13" stroke="#2a2a2a" stroke-width="1.1"/>
<text x="34.15" y="252.73" font-size="8" text-anchor="end" font-weight="normal" fill="#222" class="tk">100</text>
<line x1="37.35" y1="218.87" x2="40.35" y2="218.87" stroke="#2a2a2a" stroke-width="1.1"/>
<text x="34.15" y="221.47" font-size="8" text-anchor="end" font-weight="normal" fill="#222" class="tk">200</text>
<line x1="37.35" y1="187.6" x2="40.35" y2="187.6" stroke="#2a2a2a" stroke-width="1.1"/>
<text x="34.15" y="190.2" font-size="8" text-anchor="end" font-weight="normal" fill="#222" class="tk">300</text>
<line x1="40.35" y1="281.4" x2="40.35" y2="284.4" stroke="#2a2a2a" stroke-width="1.1"/>
<text x="40.35" y="293.15" font-size="8" text-anchor="middle" font-weight="normal" fill="#222" class="tk">0</text>
<line x1="72.82" y1="281.4" x2="72.82" y2="284.4" stroke="#2a2a2a" stroke-width="1.1"/>
<text x="72.82" y="293.15" font-size="8" text-anchor="middle" font-weight="normal" fill="#222" class="tk">10</text>
<line x1="105.28" y1="281.4" x2="105.28" y2="284.4" stroke="#2a2a2a" stroke-width="1.1"/>
<text x="105.28" y="293.15" font-size="8" text-anchor="middle" font-weight="normal" fill="#222" class="tk">20</text>
<line x1="137.75" y1="281.4" x2="137.75" y2="284.4" stroke="#2a2a2a" stroke-width="1.1"/>
<text x="137.75" y="293.15" font-size="8" text-anchor="middle" font-weight="normal" fill="#222" class="tk">30</text>
<text x="89.5" y="305.95" font-size="9.8" text-anchor="middle" font-weight="normal" fill="#000" textLength="31.3" lengthAdjust="spacingAndGlyphs" class="at">Time (min)</text>
<text x="0" y="0" font-size="10" text-anchor="middle" fill="#000" class="yl" textLength="20" lengthAdjust="spacingAndGlyphs" transform="translate(14.8 233.85) rotate(-90)">mA405</text>
<line x1="154.4" y1="190.9" x2="160" y2="190.9" stroke="#111" stroke-width="1.3"/>
<text x="163" y="193.2" font-size="6.85" text-anchor="start" font-weight="normal" fill="#111">no TFPI&#945;, no PS</text>
<line x1="154.6" y1="202.2" x2="160" y2="202.2" stroke="#d8304e" stroke-width="1.45" stroke-dasharray="0.01 2.5" stroke-linecap="round"/>
<text x="163.8" y="204.4" font-size="7" text-anchor="start" font-weight="normal" fill="#111">160nM LG1B</text>
<text x="154.8" y="222.5" font-size="7" text-anchor="start" font-weight="normal" fill="#111">2.5nM TFPI&#945;, LG1B (nM)</text>
<line x1="154.8" y1="223.3" x2="233.11" y2="223.3" stroke="#333" stroke-width="0.75"/>
<line x1="154.4" y1="231.1" x2="160" y2="231.1" stroke="#222" stroke-width="1.35"/>
<text x="163.5" y="233.6" font-size="7" text-anchor="start" font-weight="normal" fill="#111">0</text>
<line x1="154.4" y1="239.13" x2="160" y2="239.13" stroke="#f5c9cf" stroke-width="1.35"/>
<text x="163.5" y="241.63" font-size="7" text-anchor="start" font-weight="normal" fill="#111">5</text>
<line x1="154.4" y1="247.16" x2="160" y2="247.16" stroke="#efa9b3" stroke-width="1.35"/>
<text x="163.5" y="249.66" font-size="7" text-anchor="start" font-weight="normal" fill="#111">10</text>
<line x1="154.4" y1="255.19" x2="160" y2="255.19" stroke="#e57389" stroke-width="1.35"/>
<text x="163.5" y="257.69" font-size="7" text-anchor="start" font-weight="normal" fill="#111">20</text>
<line x1="154.4" y1="263.22" x2="160" y2="263.22" stroke="#d8405e" stroke-width="1.35"/>
<text x="163.5" y="265.72" font-size="7" text-anchor="start" font-weight="normal" fill="#111">40</text>
<line x1="154.4" y1="271.25" x2="160" y2="271.25" stroke="#cf2a4a" stroke-width="1.35"/>
<text x="163.5" y="273.75" font-size="7" text-anchor="start" font-weight="normal" fill="#111">80</text>
<line x1="154.4" y1="279.28" x2="160" y2="279.28" stroke="#c9203f" stroke-width="1.35"/>
<text x="163.5" y="281.78" font-size="7" text-anchor="start" font-weight="normal" fill="#111">160</text>
<text x="281.4" y="177.85" font-size="11.1" text-anchor="start" font-weight="bold" fill="#000" class="bd">D</text>
<text x="364.2" y="178.45" font-size="9.1" text-anchor="middle" font-weight="bold" fill="#000" textLength="23.2" lengthAdjust="spacingAndGlyphs" class="bd">LG1C</text>
<path d="M315.35 281.4 L316.43 281.29 L317.51 281.19 L318.6 281.09 L319.68 281 L320.76 280.91 L321.84 280.83 L322.93 280.75 L324.01 280.68 L325.09 280.61 L326.17 280.55 L327.25 280.49 L328.34 280.43 L329.42 280.38 L330.5 280.33 L331.58 280.28 L332.67 280.24 L333.75 280.2 L334.83 280.16 L335.91 280.12 L336.99 280.08 L338.08 280.05 L339.16 280.02 L340.24 279.99 L341.32 279.96 L342.41 279.94 L343.49 279.91 L344.57 279.89 L345.65 279.87 L346.73 279.85 L347.82 279.83 L348.9 279.81 L349.98 279.79 L351.06 279.78 L352.15 279.76 L353.23 279.75 L354.31 279.73 L355.39 279.72 L356.47 279.71 L357.56 279.7 L358.64 279.69 L359.72 279.68 L360.8 279.67 L361.89 279.66 L362.97 279.65 L364.05 279.64 L365.13 279.63 L366.21 279.63 L367.3 279.62 L368.38 279.62 L369.46 279.61 L370.54 279.6 L371.63 279.6 L372.71 279.59 L373.79 279.59 L374.87 279.58 L375.95 279.58 L377.04 279.58 L378.12 279.57 L379.2 279.57 L380.28 279.57 L381.37 279.56 L382.45 279.56 L383.53 279.56 L384.61 279.56 L385.69 279.55 L386.78 279.55 L387.86 279.55 L388.94 279.55 L390.02 279.55 L391.11 279.54 L392.19 279.54 L393.27 279.54 L394.35 279.54 L395.43 279.54 L396.52 279.54 L397.6 279.54 L398.68 279.53 L399.76 279.53 L400.85 279.53 L401.93 279.53 L403.01 279.53 L404.09 279.53 L405.17 279.53 L406.26 279.53 L407.34 279.53 L408.42 279.53 L409.5 279.53 L410.59 279.53 L411.67 279.52 L412.75 279.52" fill="none" stroke="#c9e9ce" stroke-width="1.15" stroke-linejoin="round"/>
<path d="M315.35 281.4 L316.43 281.22 L317.51 281.04 L318.6 280.88 L319.68 280.73 L320.76 280.59 L321.84 280.45 L322.93 280.32 L324.01 280.2 L325.09 280.09 L326.17 279.98 L327.25 279.88 L328.34 279.79 L329.42 279.7 L330.5 279.62 L331.58 279.54 L332.67 279.46 L333.75 279.39 L334.83 279.33 L335.91 279.26 L336.99 279.21 L338.08 279.15 L339.16 279.1 L340.24 279.05 L341.32 279 L342.41 278.96 L343.49 278.92 L344.57 278.88 L345.65 278.84 L346.73 278.81 L347.82 278.78 L348.9 278.75 L349.98 278.72 L351.06 278.69 L352.15 278.67 L353.23 278.64 L354.31 278.62 L355.39 278.6 L356.47 278.58 L357.56 278.56 L358.64 278.54 L359.72 278.53 L360.8 278.51 L361.89 278.5 L362.97 278.48 L364.05 278.47 L365.13 278.46 L366.21 278.45 L367.3 278.44 L368.38 278.43 L369.46 278.42 L370.54 278.41 L371.63 278.4 L372.71 278.39 L373.79 278.38 L374.87 278.37 L375.95 278.37 L377.04 278.36 L378.12 278.36 L379.2 278.35 L380.28 278.34 L381.37 278.34 L382.45 278.34 L383.53 278.33 L384.61 278.33 L385.69 278.32 L386.78 278.32 L387.86 278.32 L388.94 278.31 L390.02 278.31 L391.11 278.31 L392.19 278.3 L393.27 278.3 L394.35 278.3 L395.43 278.3 L396.52 278.29 L397.6 278.29 L398.68 278.29 L399.76 278.29 L400.85 278.29 L401.93 278.28 L403.01 278.28 L404.09 278.28 L405.17 278.28 L406.26 278.28 L407.34 278.28 L408.42 278.28 L409.5 278.28 L410.59 278.28 L411.67 278.27 L412.75 278.27" fill="none" stroke="#a8dbb0" stroke-width="1.15" stroke-linejoin="round"/>
<path d="M315.35 281.4 L316.43 281.14 L317.51 280.9 L318.6 280.68 L319.68 280.46 L320.76 280.26 L321.84 280.07 L322.93 279.89 L324.01 279.72 L325.09 279.57 L326.17 279.42 L327.25 279.28 L328.34 279.14 L329.42 279.02 L330.5 278.9 L331.58 278.79 L332.67 278.69 L333.75 278.59 L334.83 278.5 L335.91 278.41 L336.99 278.33 L338.08 278.25 L339.16 278.18 L340.24 278.11 L341.32 278.04 L342.41 277.98 L343.49 277.93 L344.57 277.87 L345.65 277.82 L346.73 277.77 L347.82 277.73 L348.9 277.69 L349.98 277.65 L351.06 277.61 L352.15 277.57 L353.23 277.54 L354.31 277.51 L355.39 277.48 L356.47 277.45 L357.56 277.43 L358.64 277.4 L359.72 277.38 L360.8 277.36 L361.89 277.34 L362.97 277.32 L364.05 277.3 L365.13 277.28 L366.21 277.26 L367.3 277.25 L368.38 277.24 L369.46 277.22 L370.54 277.21 L371.63 277.2 L372.71 277.19 L373.79 277.18 L374.87 277.16 L375.95 277.16 L377.04 277.15 L378.12 277.14 L379.2 277.13 L380.28 277.12 L381.37 277.12 L382.45 277.11 L383.53 277.1 L384.61 277.1 L385.69 277.09 L386.78 277.09 L387.86 277.08 L388.94 277.08 L390.02 277.07 L391.11 277.07 L392.19 277.06 L393.27 277.06 L394.35 277.06 L395.43 277.05 L396.52 277.05 L397.6 277.05 L398.68 277.05 L399.76 277.04 L400.85 277.04 L401.93 277.04 L403.01 277.04 L404.09 277.03 L405.17 277.03 L406.26 277.03 L407.34 277.03 L408.42 277.03 L409.5 277.03 L410.59 277.03 L411.67 277.02 L412.75 277.02" fill="none" stroke="#88cd92" stroke-width="1.15" stroke-linejoin="round"/>
<path d="M315.35 281.4 L316.43 281.04 L317.51 280.71 L318.6 280.39 L319.68 280.09 L320.76 279.81 L321.84 279.55 L322.93 279.3 L324.01 279.07 L325.09 278.84 L326.17 278.64 L327.25 278.44 L328.34 278.26 L329.42 278.08 L330.5 277.92 L331.58 277.77 L332.67 277.62 L333.75 277.48 L334.83 277.36 L335.91 277.23 L336.99 277.12 L338.08 277.01 L339.16 276.91 L340.24 276.82 L341.32 276.73 L342.41 276.64 L343.49 276.56 L344.57 276.49 L345.65 276.42 L346.73 276.35 L347.82 276.29 L348.9 276.23 L349.98 276.17 L351.06 276.12 L352.15 276.07 L353.23 276.03 L354.31 275.98 L355.39 275.94 L356.47 275.9 L357.56 275.87 L358.64 275.83 L359.72 275.8 L360.8 275.77 L361.89 275.74 L362.97 275.71 L364.05 275.69 L365.13 275.66 L366.21 275.64 L367.3 275.62 L368.38 275.6 L369.46 275.58 L370.54 275.56 L371.63 275.55 L372.71 275.53 L373.79 275.52 L374.87 275.5 L375.95 275.49 L377.04 275.48 L378.12 275.46 L379.2 275.45 L380.28 275.44 L381.37 275.43 L382.45 275.42 L383.53 275.42 L384.61 275.41 L385.69 275.4 L386.78 275.39 L387.86 275.39 L388.94 275.38 L390.02 275.37 L391.11 275.37 L392.19 275.36 L393.27 275.36 L394.35 275.35 L395.43 275.35 L396.52 275.34 L397.6 275.34 L398.68 275.34 L399.76 275.33 L400.85 275.33 L401.93 275.33 L403.01 275.32 L404.09 275.32 L405.17 275.32 L406.26 275.31 L407.34 275.31 L408.42 275.31 L409.5 275.31 L410.59 275.31 L411.67 275.3 L412.75 275.3" fill="none" stroke="#66bf73" stroke-width="1.15" stroke-linejoin="round"/>
<path d="M315.35 281.4 L316.43 280.94 L317.51 280.51 L318.6 280.11 L319.68 279.72 L320.76 279.36 L321.84 279.03 L322.93 278.71 L324.01 278.41 L325.09 278.12 L326.17 277.86 L327.25 277.61 L328.34 277.37 L329.42 277.15 L330.5 276.94 L331.58 276.74 L332.67 276.55 L333.75 276.38 L334.83 276.21 L335.91 276.06 L336.99 275.91 L338.08 275.78 L339.16 275.65 L340.24 275.52 L341.32 275.41 L342.41 275.3 L343.49 275.2 L344.57 275.1 L345.65 275.01 L346.73 274.93 L347.82 274.85 L348.9 274.77 L349.98 274.7 L351.06 274.63 L352.15 274.57 L353.23 274.51 L354.31 274.45 L355.39 274.4 L356.47 274.35 L357.56 274.3 L358.64 274.26 L359.72 274.22 L360.8 274.18 L361.89 274.14 L362.97 274.11 L364.05 274.08 L365.13 274.04 L366.21 274.02 L367.3 273.99 L368.38 273.96 L369.46 273.94 L370.54 273.92 L371.63 273.89 L372.71 273.87 L373.79 273.86 L374.87 273.84 L375.95 273.82 L377.04 273.8 L378.12 273.79 L379.2 273.78 L380.28 273.76 L381.37 273.75 L382.45 273.74 L383.53 273.73 L384.61 273.72 L385.69 273.71 L386.78 273.7 L387.86 273.69 L388.94 273.68 L390.02 273.67 L391.11 273.67 L392.19 273.66 L393.27 273.65 L394.35 273.65 L395.43 273.64 L396.52 273.64 L397.6 273.63 L398.68 273.63 L399.76 273.62 L400.85 273.62 L401.93 273.61 L403.01 273.61 L404.09 273.61 L405.17 273.6 L406.26 273.6 L407.34 273.6 L408.42 273.59 L409.5 273.59 L410.59 273.59 L411.67 273.59 L412.75 273.58" fill="none" stroke="#4bb35a" stroke-width="1.15" stroke-linejoin="round"/>
<path d="M315.35 281.4 L316.43 280.7 L317.51 280.05 L318.6 279.43 L319.68 278.85 L320.76 278.31 L321.84 277.79 L322.93 277.31 L324.01 276.85 L325.09 276.42 L326.17 276.01 L327.25 275.63 L328.34 275.27 L329.42 274.94 L330.5 274.62 L331.58 274.32 L332.67 274.03 L333.75 273.77 L334.83 273.52 L335.91 273.28 L336.99 273.06 L338.08 272.85 L339.16 272.65 L340.24 272.47 L341.32 272.29 L342.41 272.13 L343.49 271.97 L344.57 271.83 L345.65 271.69 L346.73 271.56 L347.82 271.44 L348.9 271.32 L349.98 271.21 L351.06 271.11 L352.15 271.02 L353.23 270.93 L354.31 270.84 L355.39 270.76 L356.47 270.69 L357.56 270.61 L358.64 270.55 L359.72 270.48 L360.8 270.43 L361.89 270.37 L362.97 270.32 L364.05 270.27 L365.13 270.22 L366.21 270.18 L367.3 270.13 L368.38 270.1 L369.46 270.06 L370.54 270.02 L371.63 269.99 L372.71 269.96 L373.79 269.93 L374.87 269.9 L375.95 269.88 L377.04 269.86 L378.12 269.83 L379.2 269.81 L380.28 269.79 L381.37 269.77 L382.45 269.75 L383.53 269.74 L384.61 269.72 L385.69 269.71 L386.78 269.69 L387.86 269.68 L388.94 269.67 L390.02 269.65 L391.11 269.64 L392.19 269.63 L393.27 269.62 L394.35 269.61 L395.43 269.61 L396.52 269.6 L397.6 269.59 L398.68 269.58 L399.76 269.58 L400.85 269.57 L401.93 269.56 L403.01 269.56 L404.09 269.55 L405.17 269.55 L406.26 269.54 L407.34 269.54 L408.42 269.53 L409.5 269.53 L410.59 269.53 L411.67 269.52 L412.75 269.52" fill="none" stroke="#38a948" stroke-width="1.15" stroke-linejoin="round"/>
<path d="M315.35 281.4 L316.43 280.42 L317.51 279.46 L318.6 278.52 L319.68 277.59 L320.76 276.69 L321.84 275.8 L322.93 274.93 L324.01 274.08 L325.09 273.24 L326.17 272.43 L327.25 271.62 L328.34 270.84 L329.42 270.07 L330.5 269.31 L331.58 268.57 L332.67 267.84 L333.75 267.13 L334.83 266.43 L335.91 265.75 L336.99 265.08 L338.08 264.42 L339.16 263.78 L340.24 263.15 L341.32 262.53 L342.41 261.92 L343.49 261.33 L344.57 260.74 L345.65 260.17 L346.73 259.61 L347.82 259.06 L348.9 258.53 L349.98 258 L351.06 257.48 L352.15 256.97 L353.23 256.48 L354.31 255.99 L355.39 255.51 L356.47 255.05 L357.56 254.59 L358.64 254.14 L359.72 253.7 L360.8 253.27 L361.89 252.84 L362.97 252.43 L364.05 252.02 L365.13 251.62 L366.21 251.23 L367.3 250.85 L368.38 250.47 L369.46 250.11 L370.54 249.75 L371.63 249.39 L372.71 249.05 L373.79 248.71 L374.87 248.37 L375.95 248.05 L377.04 247.73 L378.12 247.41 L379.2 247.11 L380.28 246.81 L381.37 246.51 L382.45 246.22 L383.53 245.94 L384.61 245.66 L385.69 245.39 L386.78 245.12 L387.86 244.86 L388.94 244.6 L390.02 244.35 L391.11 244.1 L392.19 243.86 L393.27 243.62 L394.35 243.39 L395.43 243.16 L396.52 242.94 L397.6 242.72 L398.68 242.51 L399.76 242.3 L400.85 242.09 L401.93 241.89 L403.01 241.69 L404.09 241.5 L405.17 241.31 L406.26 241.12 L407.34 240.94 L408.42 240.76 L409.5 240.58 L410.59 240.41 L411.67 240.24 L412.75 240.08" fill="none" stroke="#222" stroke-width="1.25" stroke-linejoin="round"/>
<path d="M315.35 281.4 L316.43 280.33 L317.51 279.26 L318.6 278.2 L319.68 277.14 L320.76 276.09 L321.84 275.03 L322.93 273.98 L324.01 272.94 L325.09 271.89 L326.17 270.85 L327.25 269.81 L328.34 268.78 L329.42 267.75 L330.5 266.72 L331.58 265.7 L332.67 264.67 L333.75 263.65 L334.83 262.64 L335.91 261.63 L336.99 260.62 L338.08 259.61 L339.16 258.61 L340.24 257.61 L341.32 256.61 L342.41 255.61 L343.49 254.62 L344.57 253.63 L345.65 252.65 L346.73 251.66 L347.82 250.68 L348.9 249.71 L349.98 248.73 L351.06 247.76 L352.15 246.79 L353.23 245.83 L354.31 244.87 L355.39 243.91 L356.47 242.95 L357.56 242 L358.64 241.05 L359.72 240.1 L360.8 239.15 L361.89 238.21 L362.97 237.27 L364.05 236.34 L365.13 235.4 L366.21 234.47 L367.3 233.54 L368.38 232.62 L369.46 231.7 L370.54 230.78 L371.63 229.86 L372.71 228.94 L373.79 228.03 L374.87 227.12 L375.95 226.22 L377.04 225.31 L378.12 224.41 L379.2 223.52 L380.28 222.62 L381.37 221.73 L382.45 220.84 L383.53 219.95 L384.61 219.07 L385.69 218.18 L386.78 217.31 L387.86 216.43 L388.94 215.56 L390.02 214.68 L391.11 213.82 L392.19 212.95 L393.27 212.09 L394.35 211.22 L395.43 210.37 L396.52 209.51 L397.6 208.66 L398.68 207.81 L399.76 206.96 L400.85 206.11 L401.93 205.27 L403.01 204.43 L404.09 203.59 L405.17 202.76 L406.26 201.92 L407.34 201.09 L408.42 200.27 L409.5 199.44 L410.59 198.62 L411.67 197.8 L412.26 197.35" fill="none" stroke="#3eb04e" stroke-width="1.35" stroke-linejoin="round" stroke-dasharray="0.01 2.1" stroke-linecap="round"/>
<line x1="315.35" y1="281.4" x2="410.15" y2="187.6" stroke="#111" stroke-width="1.2"/>
<line x1="315.35" y1="187.1" x2="315.35" y2="282" stroke="#2a2a2a" stroke-width="1.3"/>
<line x1="314.75" y1="281.4" x2="413.25" y2="281.4" stroke="#2a2a2a" stroke-width="1.2"/>
<line x1="312.35" y1="281.4" x2="315.35" y2="281.4" stroke="#2a2a2a" stroke-width="1.1"/>
<text x="309.15" y="284" font-size="8" text-anchor="end" font-weight="normal" fill="#222" class="tk">0</text>
<line x1="312.35" y1="250.13" x2="315.35" y2="250.13" stroke="#2a2a2a" stroke-width="1.1"/>
<text x="309.15" y="252.73" font-size="8" text-anchor="end" font-weight="normal" fill="#222" class="tk">100</text>
<line x1="312.35" y1="218.87" x2="315.35" y2="218.87" stroke="#2a2a2a" stroke-width="1.1"/>
<text x="309.15" y="221.47" font-size="8" text-anchor="end" font-weight="normal" fill="#222" class="tk">200</text>
<line x1="312.35" y1="187.6" x2="315.35" y2="187.6" stroke="#2a2a2a" stroke-width="1.1"/>
<text x="309.15" y="190.2" font-size="8" text-anchor="end" font-weight="normal" fill="#222" class="tk">300</text>
<line x1="315.35" y1="281.4" x2="315.35" y2="284.4" stroke="#2a2a2a" stroke-width="1.1"/>
<text x="315.35" y="293.15" font-size="8" text-anchor="middle" font-weight="normal" fill="#222" class="tk">0</text>
<line x1="347.82" y1="281.4" x2="347.82" y2="284.4" stroke="#2a2a2a" stroke-width="1.1"/>
<text x="347.82" y="293.15" font-size="8" text-anchor="middle" font-weight="normal" fill="#222" class="tk">10</text>
<line x1="380.28" y1="281.4" x2="380.28" y2="284.4" stroke="#2a2a2a" stroke-width="1.1"/>
<text x="380.28" y="293.15" font-size="8" text-anchor="middle" font-weight="normal" fill="#222" class="tk">20</text>
<line x1="412.75" y1="281.4" x2="412.75" y2="284.4" stroke="#2a2a2a" stroke-width="1.1"/>
<text x="412.75" y="293.15" font-size="8" text-anchor="middle" font-weight="normal" fill="#222" class="tk">30</text>
<text x="364.5" y="305.95" font-size="9.8" text-anchor="middle" font-weight="normal" fill="#000" textLength="31.3" lengthAdjust="spacingAndGlyphs" class="at">Time (min)</text>
<text x="0" y="0" font-size="10" text-anchor="middle" fill="#000" class="yl" textLength="20" lengthAdjust="spacingAndGlyphs" transform="translate(289.8 233.85) rotate(-90)">mA405</text>
<line x1="429.4" y1="190.9" x2="435" y2="190.9" stroke="#111" stroke-width="1.3"/>
<text x="438" y="193.2" font-size="6.85" text-anchor="start" font-weight="normal" fill="#111">no TFPI&#945;, no PS</text>
<line x1="429.6" y1="202.2" x2="435" y2="202.2" stroke="#3eb04e" stroke-width="1.45" stroke-dasharray="0.01 2.5" stroke-linecap="round"/>
<text x="438.8" y="204.4" font-size="7" text-anchor="start" font-weight="normal" fill="#111">160nM LG1C</text>
<text x="429.8" y="222.5" font-size="7" text-anchor="start" font-weight="normal" fill="#111">2.5nM TFPI&#945;, LG1C (nM)</text>
<line x1="429.8" y1="223.3" x2="508.49" y2="223.3" stroke="#333" stroke-width="0.75"/>
<line x1="429.4" y1="231.1" x2="435" y2="231.1" stroke="#222" stroke-width="1.35"/>
<text x="438.5" y="233.6" font-size="7" text-anchor="start" font-weight="normal" fill="#111">0</text>
<line x1="429.4" y1="239.13" x2="435" y2="239.13" stroke="#38a948" stroke-width="1.35"/>
<text x="438.5" y="241.63" font-size="7" text-anchor="start" font-weight="normal" fill="#111">5</text>
<line x1="429.4" y1="247.16" x2="435" y2="247.16" stroke="#4bb35a" stroke-width="1.35"/>
<text x="438.5" y="249.66" font-size="7" text-anchor="start" font-weight="normal" fill="#111">10</text>
<line x1="429.4" y1="255.19" x2="435" y2="255.19" stroke="#66bf73" stroke-width="1.35"/>
<text x="438.5" y="257.69" font-size="7" text-anchor="start" font-weight="normal" fill="#111">20</text>
<line x1="429.4" y1="263.22" x2="435" y2="263.22" stroke="#88cd92" stroke-width="1.35"/>
<text x="438.5" y="265.72" font-size="7" text-anchor="start" font-weight="normal" fill="#111">40</text>
<line x1="429.4" y1="271.25" x2="435" y2="271.25" stroke="#a8dbb0" stroke-width="1.35"/>
<text x="438.5" y="273.75" font-size="7" text-anchor="start" font-weight="normal" fill="#111">80</text>
<line x1="429.4" y1="279.28" x2="435" y2="279.28" stroke="#c9e9ce" stroke-width="1.35"/>
<text x="438.5" y="281.78" font-size="7" text-anchor="start" font-weight="normal" fill="#111">160</text>
<text x="6.6" y="338.7" font-size="11.1" text-anchor="start" font-weight="bold" fill="#000" class="bd">E</text>
<line x1="42.7" y1="377.7" x2="42.7" y2="357.75" stroke="#d8304e" stroke-width="1"/>
<line x1="40.1" y1="357.75" x2="45.3" y2="357.75" stroke="#d8304e" stroke-width="1"/>
<line x1="40.1" y1="377.7" x2="45.3" y2="377.7" stroke="#d8304e" stroke-width="1"/>
<line x1="45.75" y1="375.2" x2="45.75" y2="360.24" stroke="#d8304e" stroke-width="1"/>
<line x1="43.15" y1="360.24" x2="48.35" y2="360.24" stroke="#d8304e" stroke-width="1"/>
<line x1="43.15" y1="375.2" x2="48.35" y2="375.2" stroke="#d8304e" stroke-width="1"/>
<line x1="51.84" y1="375.51" x2="51.84" y2="361.8" stroke="#d8304e" stroke-width="1"/>
<line x1="49.24" y1="361.8" x2="54.44" y2="361.8" stroke="#d8304e" stroke-width="1"/>
<line x1="49.24" y1="375.51" x2="54.44" y2="375.51" stroke="#d8304e" stroke-width="1"/>
<line x1="64.03" y1="372.71" x2="64.03" y2="360.24" stroke="#d8304e" stroke-width="1"/>
<line x1="61.43" y1="360.24" x2="66.63" y2="360.24" stroke="#d8304e" stroke-width="1"/>
<line x1="61.43" y1="372.71" x2="66.63" y2="372.71" stroke="#d8304e" stroke-width="1"/>
<line x1="88.42" y1="378.69" x2="88.42" y2="357.5" stroke="#d8304e" stroke-width="1"/>
<line x1="85.82" y1="357.5" x2="91.02" y2="357.5" stroke="#d8304e" stroke-width="1"/>
<line x1="85.82" y1="378.69" x2="91.02" y2="378.69" stroke="#d8304e" stroke-width="1"/>
<line x1="137.19" y1="385.18" x2="137.19" y2="363.98" stroke="#d8304e" stroke-width="1"/>
<line x1="134.59" y1="363.98" x2="139.79" y2="363.98" stroke="#d8304e" stroke-width="1"/>
<line x1="134.59" y1="385.18" x2="139.79" y2="385.18" stroke="#d8304e" stroke-width="1"/>
<line x1="42.7" y1="394.53" x2="42.7" y2="379.57" stroke="#5cc05c" stroke-width="1"/>
<line x1="40.1" y1="379.57" x2="45.3" y2="379.57" stroke="#5cc05c" stroke-width="1"/>
<line x1="40.1" y1="394.53" x2="45.3" y2="394.53" stroke="#5cc05c" stroke-width="1"/>
<line x1="45.75" y1="408.24" x2="45.75" y2="390.79" stroke="#5cc05c" stroke-width="1"/>
<line x1="43.15" y1="390.79" x2="48.35" y2="390.79" stroke="#5cc05c" stroke-width="1"/>
<line x1="43.15" y1="408.24" x2="48.35" y2="408.24" stroke="#5cc05c" stroke-width="1"/>
<line x1="51.84" y1="417.59" x2="51.84" y2="390.16" stroke="#5cc05c" stroke-width="1"/>
<line x1="49.24" y1="390.16" x2="54.44" y2="390.16" stroke="#5cc05c" stroke-width="1"/>
<line x1="49.24" y1="417.59" x2="54.44" y2="417.59" stroke="#5cc05c" stroke-width="1"/>
<line x1="64.03" y1="428.5" x2="64.03" y2="401.07" stroke="#5cc05c" stroke-width="1"/>
<line x1="61.43" y1="401.07" x2="66.63" y2="401.07" stroke="#5cc05c" stroke-width="1"/>
<line x1="61.43" y1="428.5" x2="66.63" y2="428.5" stroke="#5cc05c" stroke-width="1"/>
<line x1="88.42" y1="429.12" x2="88.42" y2="407.93" stroke="#5cc05c" stroke-width="1"/>
<line x1="85.82" y1="407.93" x2="91.02" y2="407.93" stroke="#5cc05c" stroke-width="1"/>
<line x1="85.82" y1="429.12" x2="91.02" y2="429.12" stroke="#5cc05c" stroke-width="1"/>
<line x1="137.19" y1="434.73" x2="137.19" y2="403.56" stroke="#5cc05c" stroke-width="1"/>
<line x1="134.59" y1="403.56" x2="139.79" y2="403.56" stroke="#5cc05c" stroke-width="1"/>
<line x1="134.59" y1="434.73" x2="139.79" y2="434.73" stroke="#5cc05c" stroke-width="1"/>
<line x1="42.7" y1="393.9" x2="42.7" y2="365.23" stroke="#3f7fbf" stroke-width="1"/>
<line x1="40.1" y1="365.23" x2="45.3" y2="365.23" stroke="#3f7fbf" stroke-width="1"/>
<line x1="40.1" y1="393.9" x2="45.3" y2="393.9" stroke="#3f7fbf" stroke-width="1"/>
<line x1="45.75" y1="405.5" x2="45.75" y2="383.06" stroke="#3f7fbf" stroke-width="1"/>
<line x1="43.15" y1="383.06" x2="48.35" y2="383.06" stroke="#3f7fbf" stroke-width="1"/>
<line x1="43.15" y1="405.5" x2="48.35" y2="405.5" stroke="#3f7fbf" stroke-width="1"/>
<line x1="51.84" y1="415.91" x2="51.84" y2="402.19" stroke="#3f7fbf" stroke-width="1"/>
<line x1="49.24" y1="402.19" x2="54.44" y2="402.19" stroke="#3f7fbf" stroke-width="1"/>
<line x1="49.24" y1="415.91" x2="54.44" y2="415.91" stroke="#3f7fbf" stroke-width="1"/>
<line x1="64.03" y1="427.88" x2="64.03" y2="420.39" stroke="#3f7fbf" stroke-width="1"/>
<line x1="61.43" y1="420.39" x2="66.63" y2="420.39" stroke="#3f7fbf" stroke-width="1"/>
<line x1="61.43" y1="427.88" x2="66.63" y2="427.88" stroke="#3f7fbf" stroke-width="1"/>
<line x1="88.42" y1="433.98" x2="88.42" y2="424.63" stroke="#3f7fbf" stroke-width="1"/>
<line x1="85.82" y1="424.63" x2="91.02" y2="424.63" stroke="#3f7fbf" stroke-width="1"/>
<line x1="85.82" y1="433.98" x2="91.02" y2="433.98" stroke="#3f7fbf" stroke-width="1"/>
<line x1="137.19" y1="438.97" x2="137.19" y2="430.24" stroke="#3f7fbf" stroke-width="1"/>
<line x1="134.59" y1="430.24" x2="139.79" y2="430.24" stroke="#3f7fbf" stroke-width="1"/>
<line x1="134.59" y1="438.97" x2="139.79" y2="438.97" stroke="#3f7fbf" stroke-width="1"/>
<line x1="42.7" y1="403.88" x2="42.7" y2="390.16" stroke="#333" stroke-width="1"/>
<line x1="40.1" y1="390.16" x2="45.3" y2="390.16" stroke="#333" stroke-width="1"/>
<line x1="40.1" y1="403.88" x2="45.3" y2="403.88" stroke="#333" stroke-width="1"/>
<line x1="45.75" y1="416.28" x2="45.75" y2="403.19" stroke="#333" stroke-width="1"/>
<line x1="43.15" y1="403.19" x2="48.35" y2="403.19" stroke="#333" stroke-width="1"/>
<line x1="43.15" y1="416.28" x2="48.35" y2="416.28" stroke="#333" stroke-width="1"/>
<line x1="51.84" y1="428.62" x2="51.84" y2="418.03" stroke="#333" stroke-width="1"/>
<line x1="49.24" y1="418.03" x2="54.44" y2="418.03" stroke="#333" stroke-width="1"/>
<line x1="49.24" y1="428.62" x2="54.44" y2="428.62" stroke="#333" stroke-width="1"/>
<line x1="64.03" y1="434.11" x2="64.03" y2="430.37" stroke="#333" stroke-width="1"/>
<line x1="61.43" y1="430.37" x2="66.63" y2="430.37" stroke="#333" stroke-width="1"/>
<line x1="61.43" y1="434.11" x2="66.63" y2="434.11" stroke="#333" stroke-width="1"/>
<line x1="88.42" y1="437.97" x2="88.42" y2="435.48" stroke="#333" stroke-width="1"/>
<line x1="85.82" y1="435.48" x2="91.02" y2="435.48" stroke="#333" stroke-width="1"/>
<line x1="85.82" y1="437.97" x2="91.02" y2="437.97" stroke="#333" stroke-width="1"/>
<line x1="137.19" y1="441.59" x2="137.19" y2="440.34" stroke="#333" stroke-width="1"/>
<line x1="134.59" y1="440.34" x2="139.79" y2="440.34" stroke="#333" stroke-width="1"/>
<line x1="134.59" y1="441.59" x2="139.79" y2="441.59" stroke="#333" stroke-width="1"/>
<path d="M39.65 369.9 L40.26 369.91 L40.87 369.92 L41.48 369.93 L42.09 369.94 L42.7 369.95 L43.31 369.96 L43.92 369.96 L44.53 369.97 L45.14 369.98 L45.75 369.99 L46.36 370 L46.97 370.01 L47.57 370.02 L48.18 370.02 L48.79 370.03 L49.4 370.04 L50.01 370.05 L50.62 370.06 L51.23 370.07 L51.84 370.08 L52.45 370.08 L53.06 370.09 L53.67 370.1 L54.28 370.11 L54.89 370.12 L55.5 370.13 L56.11 370.14 L56.72 370.14 L57.33 370.15 L57.94 370.16 L58.55 370.17 L59.16 370.18 L59.77 370.19 L60.38 370.2 L60.99 370.2 L61.6 370.21 L62.21 370.22 L62.81 370.23 L63.42 370.24 L64.03 370.25 L64.64 370.26 L65.25 370.26 L65.86 370.27 L66.47 370.28 L67.08 370.29 L67.69 370.3 L68.3 370.31 L68.91 370.32 L69.52 370.32 L70.13 370.33 L70.74 370.34 L71.35 370.35 L71.96 370.36 L72.57 370.37 L73.18 370.38 L73.79 370.38 L74.4 370.39 L75.01 370.4 L75.62 370.41 L76.23 370.42 L76.84 370.43 L77.45 370.44 L78.05 370.44 L78.66 370.45 L79.27 370.46 L79.88 370.47 L80.49 370.48 L81.1 370.49 L81.71 370.5 L82.32 370.5 L82.93 370.51 L83.54 370.52 L84.15 370.53 L84.76 370.54 L85.37 370.55 L85.98 370.56 L86.59 370.56 L87.2 370.57 L87.81 370.58 L88.42 370.59 L89.03 370.6 L89.64 370.61 L90.25 370.62 L90.86 370.62 L91.47 370.63 L92.08 370.64 L92.69 370.65 L93.29 370.66 L93.9 370.67 L94.51 370.68 L95.12 370.68 L95.73 370.69 L96.34 370.7 L96.95 370.71 L97.56 370.72 L98.17 370.73 L98.78 370.74 L99.39 370.74 L100 370.75 L100.61 370.76 L101.22 370.77 L101.83 370.78 L102.44 370.79 L103.05 370.8 L103.66 370.8 L104.27 370.81 L104.88 370.82 L105.49 370.83 L106.1 370.84 L106.71 370.85 L107.32 370.86 L107.93 370.86 L108.53 370.87 L109.14 370.88 L109.75 370.89 L110.36 370.9 L110.97 370.91 L111.58 370.92 L112.19 370.92 L112.8 370.93 L113.41 370.94 L114.02 370.95 L114.63 370.96 L115.24 370.97 L115.85 370.98 L116.46 370.98 L117.07 370.99 L117.68 371 L118.29 371.01 L118.9 371.02 L119.51 371.03 L120.12 371.04 L120.73 371.04 L121.34 371.05 L121.95 371.06 L122.56 371.07 L123.17 371.08 L123.77 371.09 L124.38 371.1 L124.99 371.1 L125.6 371.11 L126.21 371.12 L126.82 371.13 L127.43 371.14 L128.04 371.15 L128.65 371.16 L129.26 371.16 L129.87 371.17 L130.48 371.18 L131.09 371.19 L131.7 371.2 L132.31 371.21 L132.92 371.22 L133.53 371.22 L134.14 371.23 L134.75 371.24 L135.36 371.25 L135.97 371.26 L136.58 371.27 L137.19 371.28" fill="none" stroke="#d8304e" stroke-width="1.1" stroke-linejoin="round"/>
<path d="M39.65 379.57 L40.26 381.48 L40.87 383.3 L41.48 385.04 L42.09 386.69 L42.7 388.25 L43.31 389.74 L43.92 391.16 L44.53 392.51 L45.14 393.8 L45.75 395.02 L46.36 396.18 L46.97 397.28 L47.57 398.34 L48.18 399.34 L48.79 400.29 L49.4 401.19 L50.01 402.05 L50.62 402.87 L51.23 403.65 L51.84 404.39 L52.45 405.09 L53.06 405.76 L53.67 406.4 L54.28 407.01 L54.89 407.59 L55.5 408.13 L56.11 408.66 L56.72 409.15 L57.33 409.63 L57.94 410.07 L58.55 410.5 L59.16 410.91 L59.77 411.29 L60.38 411.66 L60.99 412.01 L61.6 412.35 L62.21 412.66 L62.81 412.96 L63.42 413.25 L64.03 413.52 L64.64 413.78 L65.25 414.03 L65.86 414.26 L66.47 414.49 L67.08 414.7 L67.69 414.9 L68.3 415.09 L68.91 415.27 L69.52 415.45 L70.13 415.61 L70.74 415.77 L71.35 415.92 L71.96 416.06 L72.57 416.2 L73.18 416.33 L73.79 416.45 L74.4 416.57 L75.01 416.68 L75.62 416.78 L76.23 416.88 L76.84 416.98 L77.45 417.07 L78.05 417.15 L78.66 417.24 L79.27 417.31 L79.88 417.39 L80.49 417.46 L81.1 417.53 L81.71 417.59 L82.32 417.65 L82.93 417.71 L83.54 417.76 L84.15 417.82 L84.76 417.87 L85.37 417.91 L85.98 417.96 L86.59 418 L87.2 418.04 L87.81 418.08 L88.42 418.12 L89.03 418.15 L89.64 418.19 L90.25 418.22 L90.86 418.25 L91.47 418.28 L92.08 418.3 L92.69 418.33 L93.29 418.35 L93.9 418.38 L94.51 418.4 L95.12 418.42 L95.73 418.44 L96.34 418.46 L96.95 418.48 L97.56 418.5 L98.17 418.51 L98.78 418.53 L99.39 418.54 L100 418.56 L100.61 418.57 L101.22 418.58 L101.83 418.6 L102.44 418.61 L103.05 418.62 L103.66 418.63 L104.27 418.64 L104.88 418.65 L105.49 418.66 L106.1 418.67 L106.71 418.68 L107.32 418.68 L107.93 418.69 L108.53 418.7 L109.14 418.71 L109.75 418.71 L110.36 418.72 L110.97 418.72 L111.58 418.73 L112.19 418.73 L112.8 418.74 L113.41 418.74 L114.02 418.75 L114.63 418.75 L115.24 418.76 L115.85 418.76 L116.46 418.76 L117.07 418.77 L117.68 418.77 L118.29 418.77 L118.9 418.78 L119.51 418.78 L120.12 418.78 L120.73 418.79 L121.34 418.79 L121.95 418.79 L122.56 418.79 L123.17 418.8 L123.77 418.8 L124.38 418.8 L124.99 418.8 L125.6 418.8 L126.21 418.8 L126.82 418.81 L127.43 418.81 L128.04 418.81 L128.65 418.81 L129.26 418.81 L129.87 418.81 L130.48 418.81 L131.09 418.81 L131.7 418.82 L132.31 418.82 L132.92 418.82 L133.53 418.82 L134.14 418.82 L134.75 418.82 L135.36 418.82 L135.97 418.82 L136.58 418.82 L137.19 418.82" fill="none" stroke="#3cb043" stroke-width="1.1" stroke-linejoin="round"/>
<path d="M39.65 379.57 L40.26 381.49 L40.87 383.35 L41.48 385.14 L42.09 386.87 L42.7 388.54 L43.31 390.15 L43.92 391.7 L44.53 393.2 L45.14 394.65 L45.75 396.04 L46.36 397.39 L46.97 398.69 L47.57 399.94 L48.18 401.15 L48.79 402.32 L49.4 403.44 L50.01 404.53 L50.62 405.58 L51.23 406.59 L51.84 407.57 L52.45 408.51 L53.06 409.42 L53.67 410.3 L54.28 411.14 L54.89 411.96 L55.5 412.75 L56.11 413.51 L56.72 414.24 L57.33 414.95 L57.94 415.63 L58.55 416.29 L59.16 416.93 L59.77 417.54 L60.38 418.13 L60.99 418.7 L61.6 419.26 L62.21 419.79 L62.81 420.3 L63.42 420.8 L64.03 421.27 L64.64 421.74 L65.25 422.18 L65.86 422.61 L66.47 423.02 L67.08 423.42 L67.69 423.81 L68.3 424.18 L68.91 424.54 L69.52 424.89 L70.13 425.22 L70.74 425.55 L71.35 425.86 L71.96 426.16 L72.57 426.45 L73.18 426.73 L73.79 427 L74.4 427.26 L75.01 427.51 L75.62 427.75 L76.23 427.98 L76.84 428.21 L77.45 428.43 L78.05 428.64 L78.66 428.84 L79.27 429.04 L79.88 429.23 L80.49 429.41 L81.1 429.58 L81.71 429.75 L82.32 429.92 L82.93 430.08 L83.54 430.23 L84.15 430.37 L84.76 430.52 L85.37 430.65 L85.98 430.79 L86.59 430.91 L87.2 431.04 L87.81 431.16 L88.42 431.27 L89.03 431.38 L89.64 431.49 L90.25 431.59 L90.86 431.69 L91.47 431.78 L92.08 431.88 L92.69 431.97 L93.29 432.05 L93.9 432.14 L94.51 432.22 L95.12 432.29 L95.73 432.37 L96.34 432.44 L96.95 432.51 L97.56 432.58 L98.17 432.64 L98.78 432.7 L99.39 432.76 L100 432.82 L100.61 432.88 L101.22 432.93 L101.83 432.98 L102.44 433.03 L103.05 433.08 L103.66 433.13 L104.27 433.18 L104.88 433.22 L105.49 433.26 L106.1 433.3 L106.71 433.34 L107.32 433.38 L107.93 433.42 L108.53 433.45 L109.14 433.48 L109.75 433.52 L110.36 433.55 L110.97 433.58 L111.58 433.61 L112.19 433.64 L112.8 433.67 L113.41 433.69 L114.02 433.72 L114.63 433.74 L115.24 433.77 L115.85 433.79 L116.46 433.81 L117.07 433.83 L117.68 433.85 L118.29 433.87 L118.9 433.89 L119.51 433.91 L120.12 433.93 L120.73 433.95 L121.34 433.96 L121.95 433.98 L122.56 433.99 L123.17 434.01 L123.77 434.02 L124.38 434.04 L124.99 434.05 L125.6 434.06 L126.21 434.08 L126.82 434.09 L127.43 434.1 L128.04 434.11 L128.65 434.12 L129.26 434.13 L129.87 434.14 L130.48 434.15 L131.09 434.16 L131.7 434.17 L132.31 434.18 L132.92 434.19 L133.53 434.2 L134.14 434.2 L134.75 434.21 L135.36 434.22 L135.97 434.23 L136.58 434.23 L137.19 434.24" fill="none" stroke="#22639f" stroke-width="1.1" stroke-linejoin="round"/>
<path d="M39.65 379.57 L40.26 383.27 L40.87 386.74 L41.48 389.99 L42.09 393.04 L42.7 395.89 L43.31 398.57 L43.92 401.09 L44.53 403.44 L45.14 405.65 L45.75 407.72 L46.36 409.66 L46.97 411.48 L47.57 413.19 L48.18 414.79 L48.79 416.28 L49.4 417.69 L50.01 419.01 L50.62 420.24 L51.23 421.4 L51.84 422.49 L52.45 423.51 L53.06 424.46 L53.67 425.36 L54.28 426.19 L54.89 426.98 L55.5 427.72 L56.11 428.41 L56.72 429.06 L57.33 429.67 L57.94 430.24 L58.55 430.77 L59.16 431.27 L59.77 431.74 L60.38 432.18 L60.99 432.59 L61.6 432.98 L62.21 433.34 L62.81 433.68 L63.42 434 L64.03 434.3 L64.64 434.58 L65.25 434.84 L65.86 435.09 L66.47 435.32 L67.08 435.54 L67.69 435.74 L68.3 435.93 L68.91 436.11 L69.52 436.27 L70.13 436.43 L70.74 436.58 L71.35 436.72 L71.96 436.84 L72.57 436.97 L73.18 437.08 L73.79 437.19 L74.4 437.29 L75.01 437.38 L75.62 437.47 L76.23 437.55 L76.84 437.63 L77.45 437.7 L78.05 437.77 L78.66 437.83 L79.27 437.89 L79.88 437.95 L80.49 438 L81.1 438.05 L81.71 438.09 L82.32 438.14 L82.93 438.18 L83.54 438.21 L84.15 438.25 L84.76 438.28 L85.37 438.31 L85.98 438.34 L86.59 438.37 L87.2 438.4 L87.81 438.42 L88.42 438.44 L89.03 438.46 L89.64 438.48 L90.25 438.5 L90.86 438.52 L91.47 438.54 L92.08 438.55 L92.69 438.57 L93.29 438.58 L93.9 438.59 L94.51 438.61 L95.12 438.62 L95.73 438.63 L96.34 438.64 L96.95 438.65 L97.56 438.65 L98.17 438.66 L98.78 438.67 L99.39 438.68 L100 438.68 L100.61 438.69 L101.22 438.7 L101.83 438.7 L102.44 438.71 L103.05 438.71 L103.66 438.72 L104.27 438.72 L104.88 438.72 L105.49 438.73 L106.1 438.73 L106.71 438.73 L107.32 438.74 L107.93 438.74 L108.53 438.74 L109.14 438.75 L109.75 438.75 L110.36 438.75 L110.97 438.75 L111.58 438.75 L112.19 438.76 L112.8 438.76 L113.41 438.76 L114.02 438.76 L114.63 438.76 L115.24 438.76 L115.85 438.76 L116.46 438.77 L117.07 438.77 L117.68 438.77 L118.29 438.77 L118.9 438.77 L119.51 438.77 L120.12 438.77 L120.73 438.77 L121.34 438.77 L121.95 438.77 L122.56 438.77 L123.17 438.77 L123.77 438.78 L124.38 438.78 L124.99 438.78 L125.6 438.78 L126.21 438.78 L126.82 438.78 L127.43 438.78 L128.04 438.78 L128.65 438.78 L129.26 438.78 L129.87 438.78 L130.48 438.78 L131.09 438.78 L131.7 438.78 L132.31 438.78 L132.92 438.78 L133.53 438.78 L134.14 438.78 L134.75 438.78 L135.36 438.78 L135.97 438.78 L136.58 438.78 L137.19 438.78" fill="none" stroke="#111" stroke-width="1.1" stroke-linejoin="round"/>
<path d="M42.7 365.19 L40.17 369.56 L45.23 369.56Z" fill="#d8304e"/>
<path d="M45.75 365.19 L43.22 369.56 L48.28 369.56Z" fill="#d8304e"/>
<path d="M51.84 366.13 L49.31 370.5 L54.37 370.5Z" fill="#d8304e"/>
<path d="M64.03 363.95 L61.5 368.32 L66.56 368.32Z" fill="#d8304e"/>
<path d="M88.42 365.57 L85.89 369.94 L90.95 369.94Z" fill="#d8304e"/>
<path d="M137.19 372.05 L134.66 376.42 L139.72 376.42Z" fill="#d8304e"/>
<path d="M39.65 381.55 L37.67 378.13 L41.63 378.13Z" fill="#3cb043"/>
<path d="M42.7 389.03 L40.72 385.61 L44.68 385.61Z" fill="#3cb043"/>
<path d="M45.75 401.49 L43.77 398.07 L47.73 398.07Z" fill="#3cb043"/>
<path d="M51.84 405.86 L49.86 402.44 L53.82 402.44Z" fill="#3cb043"/>
<path d="M64.03 416.76 L62.05 413.34 L66.01 413.34Z" fill="#3cb043"/>
<path d="M88.42 420.5 L86.44 417.08 L90.4 417.08Z" fill="#3cb043"/>
<path d="M137.19 421.13 L135.21 417.71 L139.17 417.71Z" fill="#3cb043"/>
<rect x="37.35" y="377.27" width="4.6" height="4.6" fill="#22639f"/>
<rect x="40.4" y="377.27" width="4.6" height="4.6" fill="#22639f"/>
<rect x="43.45" y="391.98" width="4.6" height="4.6" fill="#22639f"/>
<rect x="49.54" y="406.75" width="4.6" height="4.6" fill="#22639f"/>
<rect x="61.73" y="421.83" width="4.6" height="4.6" fill="#22639f"/>
<rect x="86.12" y="427.01" width="4.6" height="4.6" fill="#22639f"/>
<rect x="134.89" y="432.31" width="4.6" height="4.6" fill="#22639f"/>
<circle cx="39.65" cy="379.57" r="2.42" fill="#111"/>
<circle cx="42.7" cy="397.02" r="2.42" fill="#111"/>
<circle cx="45.75" cy="409.74" r="2.42" fill="#111"/>
<circle cx="51.84" cy="423.32" r="2.42" fill="#111"/>
<circle cx="64.03" cy="432.24" r="2.42" fill="#111"/>
<circle cx="88.42" cy="436.73" r="2.42" fill="#111"/>
<circle cx="137.19" cy="440.96" r="2.42" fill="#111"/>
<line x1="39.65" y1="347.9" x2="39.65" y2="442.5" stroke="#2a2a2a" stroke-width="1.3"/>
<line x1="38.8" y1="441.9" x2="142" y2="441.9" stroke="#2a2a2a" stroke-width="1.2"/>
<line x1="36.65" y1="441.9" x2="39.65" y2="441.9" stroke="#2a2a2a" stroke-width="1"/>
<text x="33.65" y="444.1" font-size="8" text-anchor="end" font-weight="normal" fill="#222" class="tk">0</text>
<line x1="36.65" y1="410.73" x2="39.65" y2="410.73" stroke="#2a2a2a" stroke-width="1"/>
<text x="33.65" y="412.93" font-size="8" text-anchor="end" font-weight="normal" fill="#222" class="tk">50</text>
<line x1="36.65" y1="379.57" x2="39.65" y2="379.57" stroke="#2a2a2a" stroke-width="1"/>
<text x="33.65" y="381.77" font-size="8" text-anchor="end" font-weight="normal" fill="#222" class="tk">100</text>
<line x1="36.65" y1="348.4" x2="39.65" y2="348.4" stroke="#2a2a2a" stroke-width="1"/>
<text x="33.65" y="350.6" font-size="8" text-anchor="end" font-weight="normal" fill="#222" class="tk">150</text>
<line x1="39.65" y1="441.9" x2="39.65" y2="444.9" stroke="#2a2a2a" stroke-width="1"/>
<text x="39.65" y="453" font-size="8" text-anchor="middle" font-weight="normal" fill="#222" class="tk">0</text>
<line x1="70.13" y1="441.9" x2="70.13" y2="444.9" stroke="#2a2a2a" stroke-width="1"/>
<text x="70.13" y="453" font-size="8" text-anchor="middle" font-weight="normal" fill="#222" class="tk">50</text>
<line x1="100.61" y1="441.9" x2="100.61" y2="444.9" stroke="#2a2a2a" stroke-width="1"/>
<text x="100.61" y="453" font-size="8" text-anchor="middle" font-weight="normal" fill="#222" class="tk">100</text>
<line x1="131.09" y1="441.9" x2="131.09" y2="444.9" stroke="#2a2a2a" stroke-width="1"/>
<text x="131.09" y="453" font-size="8" text-anchor="middle" font-weight="normal" fill="#222" class="tk">150</text>
<text x="88.4" y="466.4" font-size="9.8" text-anchor="middle" font-weight="normal" fill="#000" textLength="41.8" lengthAdjust="spacingAndGlyphs" class="at">Protein S (nM)</text>
<text x="0" y="0" font-size="10" text-anchor="middle" fill="#000" class="yl" transform="translate(14.8 394.6) rotate(-90) scale(0.66 1)">Relative V<tspan font-size="6.5" dy="1.8">0</tspan><tspan dy="-1.8"> (%)</tspan></text>
<text x="165.8" y="364.6" font-size="7.1" text-anchor="start" font-weight="normal" fill="#111">EC<tspan font-size="4.8" dy="1.5">50</tspan><tspan dy="-1.5"> (nM); mean &#177; SD</tspan></text>
<line x1="165.8" y1="365.3" x2="236.4" y2="365.3" stroke="#333" stroke-width="0.75"/>
<line x1="154.2" y1="373.7" x2="162.6" y2="373.7" stroke="#d8304e" stroke-width="1.5"/>
<path d="M158.4 371.39 L156.09 375.38 L160.71 375.38Z" fill="#d8304e"/>
<text x="165.8" y="376.3" font-size="7.05" text-anchor="start" font-weight="normal" fill="#111">LG1B N.M.</text>
<line x1="154.2" y1="384.9" x2="162.6" y2="384.9" stroke="#3cb043" stroke-width="1.5"/>
<path d="M158.4 387.21 L156.09 383.22 L160.71 383.22Z" fill="#3cb043"/>
<text x="165.8" y="387.5" font-size="7.05" text-anchor="start" font-weight="normal" fill="#111">LG1C</text>
<text x="187.6" y="387.5" font-size="7.05" text-anchor="start" font-weight="normal" fill="#111">16.9 &#177; 7.2</text>
<line x1="154.2" y1="396.1" x2="162.6" y2="396.1" stroke="#22639f" stroke-width="1.5"/>
<rect x="156.3" y="394" width="4.2" height="4.2" fill="#22639f"/>
<text x="165.8" y="398.7" font-size="7.05" text-anchor="start" font-weight="normal" fill="#111">LG1A</text>
<text x="189.2" y="398.7" font-size="7.05" text-anchor="start" font-weight="normal" fill="#111">17.0 &#177; 4.6</text>
<line x1="154.2" y1="407.3" x2="162.6" y2="407.3" stroke="#111" stroke-width="1.5"/>
<circle cx="158.4" cy="407.3" r="2.21" fill="#111"/>
<text x="165.8" y="409.9" font-size="7.05" text-anchor="start" font-weight="normal" fill="#111">WT</text>
<text x="189.2" y="409.9" font-size="7.05" text-anchor="start" font-weight="normal" fill="#111">10.2 &#177; 3.4</text>
</svg>
</body></html>
